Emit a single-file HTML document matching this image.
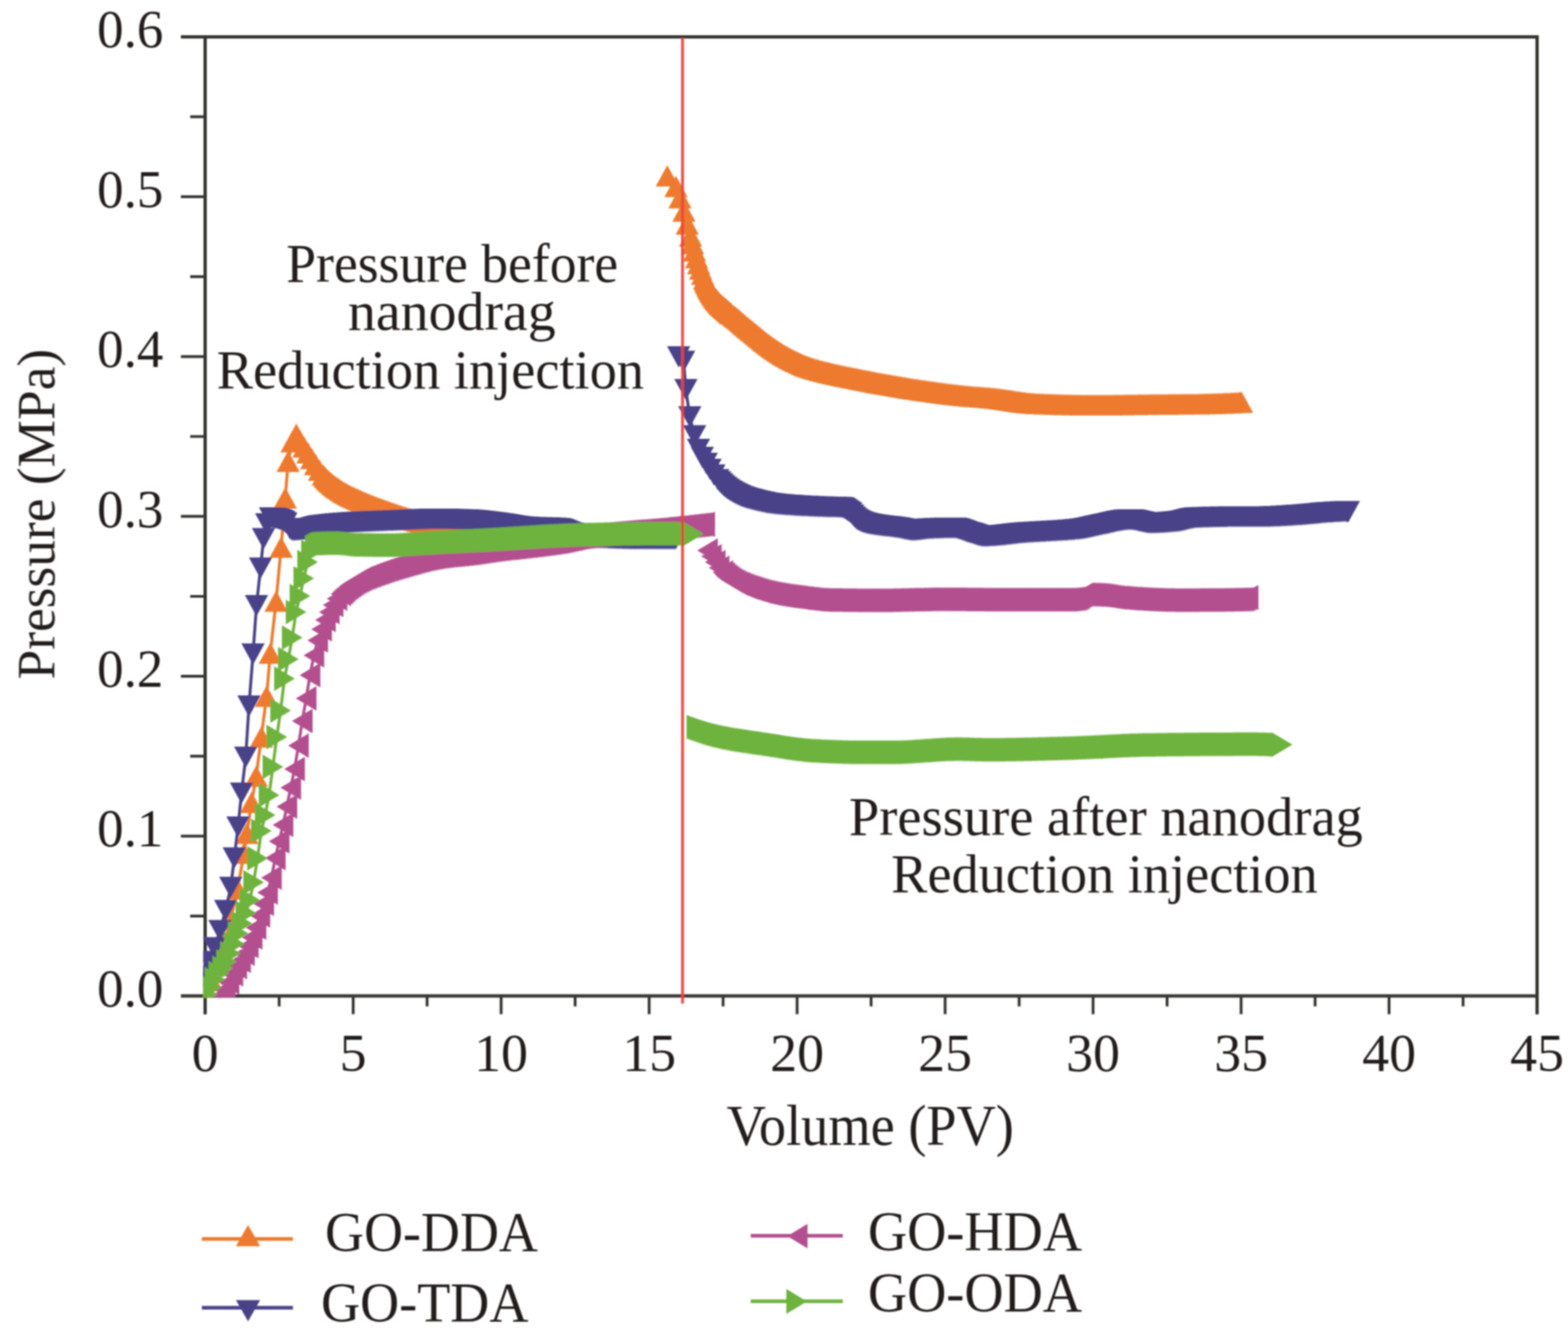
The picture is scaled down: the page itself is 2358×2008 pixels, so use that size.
<!DOCTYPE html>
<html><head><meta charset="utf-8"><title>Pressure vs Volume</title>
<style>html,body{margin:0;padding:0;background:#fff;}svg{display:block;}</style></head><body>
<svg width="2358" height="2008" viewBox="0 0 2358 2008">
<rect width="2358" height="2008" fill="#ffffff"/>
<filter id="soft" x="0" y="0" width="1" height="1"><feGaussianBlur stdDeviation="1.0"/></filter>
<g filter="url(#soft)">
<g stroke="#363632" fill="none" stroke-linecap="butt">
<path d="M272.0 55.5H2311.5V1525.5" stroke-width="5"/>
<path d="M308.5 53.0V1525.5" stroke-width="5"/>
<path d="M272.0 1498.0H2314.0" stroke-width="5"/>
<path d="M272 1498.0H308.5M272 1257.6H308.5M272 1017.2H308.5M272 776.7H308.5M272 536.3H308.5M272 295.9H308.5M272 55.5H308.5M286 1377.8H308.5M286 1137.4H308.5M286 897.0H308.5M286 656.5H308.5M286 416.1H308.5M286 175.7H308.5M308.5 1498.0V1525.5M531.1 1498.0V1525.5M753.6 1498.0V1525.5M976.2 1498.0V1525.5M1198.7 1498.0V1525.5M1421.3 1498.0V1525.5M1643.8 1498.0V1525.5M1866.4 1498.0V1525.5M2088.9 1498.0V1525.5M2311.5 1498.0V1525.5M419.8 1498.0V1513.8M642.3 1498.0V1513.8M864.9 1498.0V1513.8M1087.4 1498.0V1513.8M1310.0 1498.0V1513.8M1532.6 1498.0V1513.8M1755.1 1498.0V1513.8M1977.7 1498.0V1513.8M2200.2 1498.0V1513.8" stroke-width="4.2"/>
</g>
<defs><clipPath id="pc"><rect x="305.5" y="55.5" width="2003.0" height="1445.0"/></clipPath></defs>
<g clip-path="url(#pc)">
<path d="M308.5 1497.0L318.0 1475.0L328.0 1450.0L338.0 1418.0L347.0 1382.4L357.4 1337.0L366.7 1283.6L371.3 1253.4L378.3 1207.0L385.3 1167.4L393.0 1108.4L400.9 1047.2L406.5 982.5L415.2 904.3L422.7 823.0L429.0 749.0L433.3 694.0L439.2 664.5L445.6 653.0L451.4 662.9L457.2 672.3L463.0 681.1L468.8 689.7L474.6 698.7L480.4 707.2L486.2 714.6L489.1 718.0L492.0 721.0L494.9 723.7L497.8 726.3L500.7 728.7L503.6 731.0L506.5 733.1L509.4 735.1L512.3 737.1L515.2 738.9L518.1 740.7L521.0 742.3L523.9 743.9L526.8 745.4L529.7 746.8L532.6 748.2L535.5 749.5L538.4 750.8L541.3 752.1L544.2 753.4L547.1 754.7L550.0 755.9L552.9 757.2L555.8 758.4L558.7 759.5L561.6 760.7L564.5 761.8L567.4 762.9L570.3 764.0L573.2 765.1L576.1 766.1L579.0 767.2L581.9 768.2L584.8 769.2L587.7 770.2L590.6 771.2L593.5 772.2L596.4 773.2L599.3 774.2L602.2 775.2L605.1 776.2L608.0 777.1L610.9 778.1L613.8 778.9L616.7 779.8L619.6 780.7L622.5 781.6L625.4 782.5L628.3 783.4L631.2 784.1L634.1 784.9L637.0 785.5L639.9 786.0L642.8 786.4L645.7 786.8L648.6 787.1L651.5 787.4L654.4 787.7L657.3 788.0L660.2 788.3L663.1 788.5L666.0 788.8L668.9 789.0L671.8 789.2L674.7 789.5L677.6 789.8L680.5 790.1L683.4 790.3L686.3 790.6L689.2 790.9L692.1 791.2L695.0 791.5L697.9 791.8L700.8 792.1L703.7 792.4L706.6 792.7L709.5 793.0L712.4 793.3L715.3 793.6L718.2 793.8L721.1 794.1L724.0 794.3L726.9 794.6L729.8 794.8L732.7 795.1L735.6 795.3L738.5 795.6L741.4 795.8L744.3 796.0L747.2 796.3L750.1 796.5L753.0 796.7L755.9 797.0L758.8 797.2L761.7 797.4L764.6 797.6L767.5 797.8L770.4 798.0L773.3 798.3L776.2 798.5L779.1 798.7L782.0 798.9L784.9 799.1L787.8 799.2L790.7 799.4L793.6 799.6L796.5 799.8L799.4 800.0L802.3 800.1L805.2 800.3L808.1 800.5L811.0 800.7L813.9 800.9L816.8 801.1L819.7 801.3L822.6 801.5L825.5 801.7L828.4 801.8L831.3 802.0L834.2 802.2L837.1 802.3L840.0 802.5L842.9 802.6L845.8 802.7L848.7 802.8L851.6 802.9L854.5 803.0L857.4 803.0L860.3 803.0L863.2 803.0L866.1 803.0L869.0 803.0L871.9 803.0L874.8 803.0L877.7 803.0L880.6 803.0L883.5 803.0L886.4 803.0L889.3 803.0L892.2 803.0L895.1 803.0L898.0 803.0L900.9 803.0L903.8 803.0L906.7 803.0L909.6 803.0L912.5 803.0L915.4 803.0L918.3 803.0L921.2 803.0L924.1 803.0L927.0 803.0L929.9 803.0L932.8 803.0L935.7 803.0L938.6 803.0L941.5 803.0L944.4 803.0L947.3 803.0L950.2 803.0L953.1 803.0L956.0 803.0L958.9 803.0L961.8 803.0L964.7 803.0L967.6 803.0L970.5 803.0L973.4 803.0L976.3 803.0L979.2 803.0L982.1 803.0L985.0 803.0L987.9 803.0L990.8 803.0L993.7 803.0L996.6 803.0L998.3 803.0L1000.0 803.0" fill="none" stroke="#ED7A2F" stroke-width="4.5" stroke-linejoin="round"/>
<path d="M1003.5 264.5L1016.5 280.5L1022.5 297.5L1028.5 317.5L1033.5 337.0L1038.5 355.0L1041.5 366.5L1044.5 377.3L1047.5 387.4L1050.5 396.4L1053.5 404.7L1056.5 412.4L1059.5 419.5L1061.0 422.9L1062.5 426.1L1064.0 429.3L1065.5 432.2L1067.0 435.0L1068.5 437.6L1070.0 440.1L1071.5 442.4L1073.0 444.6L1074.5 446.7L1076.0 448.7L1077.5 450.6L1079.0 452.5L1080.5 454.3L1082.0 455.9L1083.5 457.5L1085.0 459.0L1086.5 460.3L1088.0 461.6L1089.5 462.9L1091.0 464.1L1092.5 465.4L1094.0 466.8L1095.5 468.1L1097.0 469.4L1098.5 470.7L1099.2 471.4L1100.0 472.0L1103.0 474.4L1105.9 476.6L1108.8 478.8L1111.7 481.3L1114.6 483.9L1117.5 486.4L1120.4 488.9L1123.3 491.4L1126.2 493.8L1129.1 496.2L1132.0 498.6L1134.9 501.0L1137.8 503.3L1140.7 505.7L1143.6 508.1L1146.5 510.5L1149.4 512.9L1152.3 515.2L1155.2 517.5L1158.1 519.6L1161.0 521.7L1163.9 523.8L1166.8 525.8L1169.7 527.8L1172.6 529.6L1175.5 531.5L1178.4 533.2L1181.3 534.9L1184.2 536.6L1187.1 538.2L1190.0 539.7L1192.9 541.2L1195.8 542.7L1198.7 544.1L1201.6 545.5L1204.5 546.8L1207.4 548.2L1210.3 549.4L1213.2 550.6L1216.1 551.6L1219.0 552.6L1221.9 553.5L1224.8 554.4L1227.7 555.2L1230.6 556.1L1233.5 556.9L1236.4 557.6L1239.3 558.4L1242.2 559.1L1245.1 559.8L1248.0 560.5L1250.9 561.2L1253.8 561.9L1256.7 562.5L1259.6 563.2L1262.5 563.8L1265.4 564.5L1268.3 565.1L1271.2 565.7L1274.1 566.2L1277.0 566.8L1279.9 567.4L1282.8 568.0L1285.7 568.6L1288.6 569.1L1291.5 569.7L1294.4 570.3L1297.3 570.9L1300.2 571.4L1303.1 572.0L1306.0 572.6L1308.9 573.2L1311.8 573.7L1314.7 574.3L1317.6 574.9L1320.5 575.4L1323.4 576.0L1326.3 576.5L1329.2 577.0L1332.1 577.6L1335.0 578.1L1337.9 578.6L1340.8 579.1L1343.7 579.6L1346.6 580.1L1349.5 580.6L1352.4 581.1L1355.3 581.6L1358.2 582.1L1361.1 582.6L1364.0 583.0L1366.9 583.5L1369.8 584.0L1372.7 584.4L1375.6 584.9L1378.5 585.3L1381.4 585.8L1384.3 586.2L1387.2 586.7L1390.1 587.1L1393.0 587.5L1395.9 587.9L1398.8 588.3L1401.7 588.7L1404.6 589.1L1407.5 589.5L1410.4 589.9L1413.3 590.3L1416.2 590.7L1419.1 591.1L1422.0 591.5L1424.9 591.9L1427.8 592.2L1430.7 592.6L1433.6 592.9L1436.5 593.3L1439.4 593.6L1442.3 593.9L1445.2 594.3L1448.1 594.6L1451.0 594.9L1453.9 595.1L1456.8 595.4L1459.7 595.7L1462.6 595.9L1465.5 596.2L1468.4 596.4L1471.3 596.6L1474.2 596.9L1477.1 597.1L1480.0 597.4L1482.9 597.6L1485.8 597.8L1488.7 598.1L1491.6 598.4L1494.5 598.6L1497.4 598.9L1500.3 599.2L1503.2 599.6L1506.1 600.0L1509.0 600.3L1511.9 600.8L1514.8 601.2L1517.7 601.6L1520.6 602.1L1523.5 602.5L1526.4 603.0L1529.3 603.4L1532.2 603.8L1535.1 604.3L1538.0 604.7L1540.9 605.0L1543.8 605.4L1546.7 605.7L1549.6 606.0L1552.5 606.3L1555.4 606.5L1558.3 606.7L1561.2 606.9L1564.1 607.0L1567.0 607.1L1569.9 607.2L1572.8 607.4L1575.7 607.5L1578.6 607.6L1581.5 607.7L1584.4 607.8L1587.3 607.9L1590.2 608.0L1593.1 608.1L1596.0 608.2L1598.9 608.3L1601.8 608.4L1604.7 608.5L1607.6 608.5L1610.5 608.6L1613.4 608.7L1616.3 608.7L1619.2 608.8L1622.1 608.8L1625.0 608.9L1627.9 608.9L1630.8 608.9L1633.7 609.0L1636.6 609.0L1639.5 609.0L1642.4 609.0L1645.3 609.0L1648.2 609.0L1651.1 609.0L1654.0 609.0L1656.9 609.0L1659.8 608.9L1662.7 608.9L1665.6 608.9L1668.5 608.9L1671.4 608.9L1674.3 608.8L1677.2 608.8L1680.1 608.8L1683.0 608.7L1685.9 608.7L1688.8 608.7L1691.7 608.6L1694.6 608.6L1697.5 608.5L1700.4 608.5L1703.3 608.5L1706.2 608.4L1709.1 608.4L1712.0 608.3L1714.9 608.3L1717.8 608.3L1720.7 608.2L1723.6 608.2L1726.5 608.2L1729.4 608.1L1732.3 608.1L1735.2 608.1L1738.1 608.0L1741.0 608.0L1743.9 608.0L1746.8 607.9L1749.7 607.9L1752.6 607.9L1755.5 607.9L1758.4 607.8L1761.3 607.8L1764.2 607.8L1767.1 607.8L1770.0 607.7L1772.9 607.7L1775.8 607.7L1778.7 607.7L1781.6 607.6L1784.5 607.6L1787.4 607.6L1790.3 607.5L1793.2 607.5L1796.1 607.5L1799.0 607.4L1801.9 607.4L1804.8 607.3L1807.7 607.3L1810.6 607.2L1813.5 607.1L1816.4 607.0L1819.3 607.0L1822.2 606.9L1825.1 606.8L1828.0 606.7L1830.9 606.6L1833.8 606.5L1836.7 606.4L1839.6 606.2L1842.5 606.1L1845.4 606.0L1848.3 605.9L1851.2 605.7L1854.1 605.6L1857.0 605.5L1859.9 605.3L1862.8 605.2L1864.9 605.1L1867.0 605.0" fill="none" stroke="#ED7A2F" stroke-width="4.5" stroke-linejoin="round"/>
<path d="M308.5 1481.0L326.0 1513.0L291.0 1513.0ZM318.0 1459.0L335.5 1491.0L300.5 1491.0ZM328.0 1434.0L345.5 1466.0L310.5 1466.0ZM338.0 1402.0L355.5 1434.0L320.5 1434.0ZM347.0 1366.4L364.5 1398.4L329.5 1398.4ZM357.4 1321.0L374.9 1353.0L339.9 1353.0ZM366.7 1267.6L384.2 1299.6L349.2 1299.6ZM371.3 1237.4L388.8 1269.4L353.8 1269.4ZM378.3 1191.0L395.8 1223.0L360.8 1223.0ZM385.3 1151.4L402.8 1183.4L367.8 1183.4ZM393.0 1092.4L410.5 1124.4L375.5 1124.4ZM400.9 1031.2L418.4 1063.2L383.4 1063.2ZM406.5 966.5L424.0 998.5L389.0 998.5ZM415.2 888.3L432.7 920.3L397.7 920.3ZM422.7 807.0L440.2 839.0L405.2 839.0ZM429.0 733.0L446.5 765.0L411.5 765.0ZM433.3 678.0L450.8 710.0L415.8 710.0ZM439.2 648.5L456.7 680.5L421.7 680.5ZM445.6 637.0L463.1 669.0L428.1 669.0ZM451.4 646.9L468.9 678.9L433.9 678.9ZM457.2 656.3L474.7 688.3L439.7 688.3ZM463.0 665.1L480.5 697.1L445.5 697.1ZM468.8 673.7L486.3 705.7L451.3 705.7ZM474.6 682.7L492.1 714.7L457.1 714.7ZM480.4 691.2L497.9 723.2L462.9 723.2ZM486.2 698.6L503.7 730.6L468.7 730.6ZM489.1 702.0L506.6 734.0L471.6 734.0ZM492.0 705.0L509.5 737.0L474.5 737.0ZM494.9 707.7L512.4 739.7L477.4 739.7ZM497.8 710.3L515.3 742.3L480.3 742.3ZM500.7 712.7L518.2 744.7L483.2 744.7ZM503.6 715.0L521.1 747.0L486.1 747.0ZM506.5 717.1L524.0 749.1L489.0 749.1ZM509.4 719.1L526.9 751.1L491.9 751.1ZM512.3 721.1L529.8 753.1L494.8 753.1ZM515.2 722.9L532.7 754.9L497.7 754.9ZM518.1 724.7L535.6 756.7L500.6 756.7ZM521.0 726.3L538.5 758.3L503.5 758.3ZM523.9 727.9L541.4 759.9L506.4 759.9ZM526.8 729.4L544.3 761.4L509.3 761.4ZM529.7 730.8L547.2 762.8L512.2 762.8ZM532.6 732.2L550.1 764.2L515.1 764.2ZM535.5 733.5L553.0 765.5L518.0 765.5ZM538.4 734.8L555.9 766.8L520.9 766.8ZM541.3 736.1L558.8 768.1L523.8 768.1ZM544.2 737.4L561.7 769.4L526.7 769.4ZM547.1 738.7L564.6 770.7L529.6 770.7ZM550.0 739.9L567.5 771.9L532.5 771.9ZM552.9 741.2L570.4 773.2L535.4 773.2ZM555.8 742.4L573.3 774.4L538.3 774.4ZM558.7 743.5L576.2 775.5L541.2 775.5ZM561.6 744.7L579.1 776.7L544.1 776.7ZM564.5 745.8L582.0 777.8L547.0 777.8ZM567.4 746.9L584.9 778.9L549.9 778.9ZM570.3 748.0L587.8 780.0L552.8 780.0ZM573.2 749.1L590.7 781.1L555.7 781.1ZM576.1 750.1L593.6 782.1L558.6 782.1ZM579.0 751.2L596.5 783.2L561.5 783.2ZM581.9 752.2L599.4 784.2L564.4 784.2ZM584.8 753.2L602.3 785.2L567.3 785.2ZM587.7 754.2L605.2 786.2L570.2 786.2ZM590.6 755.2L608.1 787.2L573.1 787.2ZM593.5 756.2L611.0 788.2L576.0 788.2ZM596.4 757.2L613.9 789.2L578.9 789.2ZM599.3 758.2L616.8 790.2L581.8 790.2ZM602.2 759.2L619.7 791.2L584.7 791.2ZM605.1 760.2L622.6 792.2L587.6 792.2ZM608.0 761.1L625.5 793.1L590.5 793.1ZM610.9 762.1L628.4 794.1L593.4 794.1ZM613.8 762.9L631.3 794.9L596.3 794.9ZM616.7 763.8L634.2 795.8L599.2 795.8ZM619.6 764.7L637.1 796.7L602.1 796.7ZM622.5 765.6L640.0 797.6L605.0 797.6ZM625.4 766.5L642.9 798.5L607.9 798.5ZM628.3 767.4L645.8 799.4L610.8 799.4ZM631.2 768.1L648.7 800.1L613.7 800.1ZM634.1 768.9L651.6 800.9L616.6 800.9ZM637.0 769.5L654.5 801.5L619.5 801.5ZM639.9 770.0L657.4 802.0L622.4 802.0ZM642.8 770.4L660.3 802.4L625.3 802.4ZM645.7 770.8L663.2 802.8L628.2 802.8ZM648.6 771.1L666.1 803.1L631.1 803.1ZM651.5 771.4L669.0 803.4L634.0 803.4ZM654.4 771.7L671.9 803.7L636.9 803.7ZM657.3 772.0L674.8 804.0L639.8 804.0ZM660.2 772.3L677.7 804.3L642.7 804.3ZM663.1 772.5L680.6 804.5L645.6 804.5ZM666.0 772.8L683.5 804.8L648.5 804.8ZM668.9 773.0L686.4 805.0L651.4 805.0ZM671.8 773.2L689.3 805.2L654.3 805.2ZM674.7 773.5L692.2 805.5L657.2 805.5ZM677.6 773.8L695.1 805.8L660.1 805.8ZM680.5 774.1L698.0 806.1L663.0 806.1ZM683.4 774.3L700.9 806.3L665.9 806.3ZM686.3 774.6L703.8 806.6L668.8 806.6ZM689.2 774.9L706.7 806.9L671.7 806.9ZM692.1 775.2L709.6 807.2L674.6 807.2ZM695.0 775.5L712.5 807.5L677.5 807.5ZM697.9 775.8L715.4 807.8L680.4 807.8ZM700.8 776.1L718.3 808.1L683.3 808.1ZM703.7 776.4L721.2 808.4L686.2 808.4ZM706.6 776.7L724.1 808.7L689.1 808.7ZM709.5 777.0L727.0 809.0L692.0 809.0ZM712.4 777.3L729.9 809.3L694.9 809.3ZM715.3 777.6L732.8 809.6L697.8 809.6ZM718.2 777.8L735.7 809.8L700.7 809.8ZM721.1 778.1L738.6 810.1L703.6 810.1ZM724.0 778.3L741.5 810.3L706.5 810.3ZM726.9 778.6L744.4 810.6L709.4 810.6ZM729.8 778.8L747.3 810.8L712.3 810.8ZM732.7 779.1L750.2 811.1L715.2 811.1ZM735.6 779.3L753.1 811.3L718.1 811.3ZM738.5 779.6L756.0 811.6L721.0 811.6ZM741.4 779.8L758.9 811.8L723.9 811.8ZM744.3 780.0L761.8 812.0L726.8 812.0ZM747.2 780.3L764.7 812.3L729.7 812.3ZM750.1 780.5L767.6 812.5L732.6 812.5ZM753.0 780.7L770.5 812.7L735.5 812.7ZM755.9 781.0L773.4 813.0L738.4 813.0ZM758.8 781.2L776.3 813.2L741.3 813.2ZM761.7 781.4L779.2 813.4L744.2 813.4ZM764.6 781.6L782.1 813.6L747.1 813.6ZM767.5 781.8L785.0 813.8L750.0 813.8ZM770.4 782.0L787.9 814.0L752.9 814.0ZM773.3 782.3L790.8 814.3L755.8 814.3ZM776.2 782.5L793.7 814.5L758.7 814.5ZM779.1 782.7L796.6 814.7L761.6 814.7ZM782.0 782.9L799.5 814.9L764.5 814.9ZM784.9 783.1L802.4 815.1L767.4 815.1ZM787.8 783.2L805.3 815.2L770.3 815.2ZM790.7 783.4L808.2 815.4L773.2 815.4ZM793.6 783.6L811.1 815.6L776.1 815.6ZM796.5 783.8L814.0 815.8L779.0 815.8ZM799.4 784.0L816.9 816.0L781.9 816.0ZM802.3 784.1L819.8 816.1L784.8 816.1ZM805.2 784.3L822.7 816.3L787.7 816.3ZM808.1 784.5L825.6 816.5L790.6 816.5ZM811.0 784.7L828.5 816.7L793.5 816.7ZM813.9 784.9L831.4 816.9L796.4 816.9ZM816.8 785.1L834.3 817.1L799.3 817.1ZM819.7 785.3L837.2 817.3L802.2 817.3ZM822.6 785.5L840.1 817.5L805.1 817.5ZM825.5 785.7L843.0 817.7L808.0 817.7ZM828.4 785.8L845.9 817.8L810.9 817.8ZM831.3 786.0L848.8 818.0L813.8 818.0ZM834.2 786.2L851.7 818.2L816.7 818.2ZM837.1 786.3L854.6 818.3L819.6 818.3ZM840.0 786.5L857.5 818.5L822.5 818.5ZM842.9 786.6L860.4 818.6L825.4 818.6ZM845.8 786.7L863.3 818.7L828.3 818.7ZM848.7 786.8L866.2 818.8L831.2 818.8ZM851.6 786.9L869.1 818.9L834.1 818.9ZM854.5 787.0L872.0 819.0L837.0 819.0ZM857.4 787.0L874.9 819.0L839.9 819.0ZM860.3 787.0L877.8 819.0L842.8 819.0ZM863.2 787.0L880.7 819.0L845.7 819.0ZM866.1 787.0L883.6 819.0L848.6 819.0ZM869.0 787.0L886.5 819.0L851.5 819.0ZM871.9 787.0L889.4 819.0L854.4 819.0ZM874.8 787.0L892.3 819.0L857.3 819.0ZM877.7 787.0L895.2 819.0L860.2 819.0ZM880.6 787.0L898.1 819.0L863.1 819.0ZM883.5 787.0L901.0 819.0L866.0 819.0ZM886.4 787.0L903.9 819.0L868.9 819.0ZM889.3 787.0L906.8 819.0L871.8 819.0ZM892.2 787.0L909.7 819.0L874.7 819.0ZM895.1 787.0L912.6 819.0L877.6 819.0ZM898.0 787.0L915.5 819.0L880.5 819.0ZM900.9 787.0L918.4 819.0L883.4 819.0ZM903.8 787.0L921.3 819.0L886.3 819.0ZM906.7 787.0L924.2 819.0L889.2 819.0ZM909.6 787.0L927.1 819.0L892.1 819.0ZM912.5 787.0L930.0 819.0L895.0 819.0ZM915.4 787.0L932.9 819.0L897.9 819.0ZM918.3 787.0L935.8 819.0L900.8 819.0ZM921.2 787.0L938.7 819.0L903.7 819.0ZM924.1 787.0L941.6 819.0L906.6 819.0ZM927.0 787.0L944.5 819.0L909.5 819.0ZM929.9 787.0L947.4 819.0L912.4 819.0ZM932.8 787.0L950.3 819.0L915.3 819.0ZM935.7 787.0L953.2 819.0L918.2 819.0ZM938.6 787.0L956.1 819.0L921.1 819.0ZM941.5 787.0L959.0 819.0L924.0 819.0ZM944.4 787.0L961.9 819.0L926.9 819.0ZM947.3 787.0L964.8 819.0L929.8 819.0ZM950.2 787.0L967.7 819.0L932.7 819.0ZM953.1 787.0L970.6 819.0L935.6 819.0ZM956.0 787.0L973.5 819.0L938.5 819.0ZM958.9 787.0L976.4 819.0L941.4 819.0ZM961.8 787.0L979.3 819.0L944.3 819.0ZM964.7 787.0L982.2 819.0L947.2 819.0ZM967.6 787.0L985.1 819.0L950.1 819.0ZM970.5 787.0L988.0 819.0L953.0 819.0ZM973.4 787.0L990.9 819.0L955.9 819.0ZM976.3 787.0L993.8 819.0L958.8 819.0ZM979.2 787.0L996.7 819.0L961.7 819.0ZM982.1 787.0L999.6 819.0L964.6 819.0ZM985.0 787.0L1002.5 819.0L967.5 819.0ZM987.9 787.0L1005.4 819.0L970.4 819.0ZM990.8 787.0L1008.3 819.0L973.3 819.0ZM993.7 787.0L1011.2 819.0L976.2 819.0ZM996.6 787.0L1014.1 819.0L979.1 819.0ZM998.3 787.0L1015.8 819.0L980.8 819.0ZM1000.0 787.0L1017.5 819.0L982.5 819.0ZM1003.5 248.5L1021.0 280.5L986.0 280.5ZM1016.5 264.5L1034.0 296.5L999.0 296.5ZM1022.5 281.5L1040.0 313.5L1005.0 313.5ZM1028.5 301.5L1046.0 333.5L1011.0 333.5ZM1033.5 321.0L1051.0 353.0L1016.0 353.0ZM1038.5 339.0L1056.0 371.0L1021.0 371.0ZM1041.5 350.5L1059.0 382.5L1024.0 382.5ZM1044.5 361.3L1062.0 393.3L1027.0 393.3ZM1047.5 371.4L1065.0 403.4L1030.0 403.4ZM1050.5 380.4L1068.0 412.4L1033.0 412.4ZM1053.5 388.7L1071.0 420.7L1036.0 420.7ZM1056.5 396.4L1074.0 428.4L1039.0 428.4ZM1059.5 403.5L1077.0 435.5L1042.0 435.5ZM1061.0 406.9L1078.5 438.9L1043.5 438.9ZM1062.5 410.1L1080.0 442.1L1045.0 442.1ZM1064.0 413.3L1081.5 445.3L1046.5 445.3ZM1065.5 416.2L1083.0 448.2L1048.0 448.2ZM1067.0 419.0L1084.5 451.0L1049.5 451.0ZM1068.5 421.6L1086.0 453.6L1051.0 453.6ZM1070.0 424.1L1087.5 456.1L1052.5 456.1ZM1071.5 426.4L1089.0 458.4L1054.0 458.4ZM1073.0 428.6L1090.5 460.6L1055.5 460.6ZM1074.5 430.7L1092.0 462.7L1057.0 462.7ZM1076.0 432.7L1093.5 464.7L1058.5 464.7ZM1077.5 434.6L1095.0 466.6L1060.0 466.6ZM1079.0 436.5L1096.5 468.5L1061.5 468.5ZM1080.5 438.3L1098.0 470.3L1063.0 470.3ZM1082.0 439.9L1099.5 471.9L1064.5 471.9ZM1083.5 441.5L1101.0 473.5L1066.0 473.5ZM1085.0 443.0L1102.5 475.0L1067.5 475.0ZM1086.5 444.3L1104.0 476.3L1069.0 476.3ZM1088.0 445.6L1105.5 477.6L1070.5 477.6ZM1089.5 446.9L1107.0 478.9L1072.0 478.9ZM1091.0 448.1L1108.5 480.1L1073.5 480.1ZM1092.5 449.4L1110.0 481.4L1075.0 481.4ZM1094.0 450.8L1111.5 482.8L1076.5 482.8ZM1095.5 452.1L1113.0 484.1L1078.0 484.1ZM1097.0 453.4L1114.5 485.4L1079.5 485.4ZM1098.5 454.7L1116.0 486.7L1081.0 486.7ZM1099.2 455.4L1116.8 487.4L1081.8 487.4ZM1100.0 456.0L1117.5 488.0L1082.5 488.0ZM1103.0 458.4L1120.5 490.4L1085.5 490.4ZM1105.9 460.6L1123.4 492.6L1088.4 492.6ZM1108.8 462.8L1126.3 494.8L1091.3 494.8ZM1111.7 465.3L1129.2 497.3L1094.2 497.3ZM1114.6 467.9L1132.1 499.9L1097.1 499.9ZM1117.5 470.4L1135.0 502.4L1100.0 502.4ZM1120.4 472.9L1137.9 504.9L1102.9 504.9ZM1123.3 475.4L1140.8 507.4L1105.8 507.4ZM1126.2 477.8L1143.7 509.8L1108.7 509.8ZM1129.1 480.2L1146.6 512.2L1111.6 512.2ZM1132.0 482.6L1149.5 514.6L1114.5 514.6ZM1134.9 485.0L1152.4 517.0L1117.4 517.0ZM1137.8 487.3L1155.3 519.3L1120.3 519.3ZM1140.7 489.7L1158.2 521.7L1123.2 521.7ZM1143.6 492.1L1161.1 524.1L1126.1 524.1ZM1146.5 494.5L1164.0 526.5L1129.0 526.5ZM1149.4 496.9L1166.9 528.9L1131.9 528.9ZM1152.3 499.2L1169.8 531.2L1134.8 531.2ZM1155.2 501.5L1172.7 533.5L1137.7 533.5ZM1158.1 503.6L1175.6 535.6L1140.6 535.6ZM1161.0 505.7L1178.5 537.7L1143.5 537.7ZM1163.9 507.8L1181.4 539.8L1146.4 539.8ZM1166.8 509.8L1184.3 541.8L1149.3 541.8ZM1169.7 511.8L1187.2 543.8L1152.2 543.8ZM1172.6 513.6L1190.1 545.6L1155.1 545.6ZM1175.5 515.5L1193.0 547.5L1158.0 547.5ZM1178.4 517.2L1195.9 549.2L1160.9 549.2ZM1181.3 518.9L1198.8 550.9L1163.8 550.9ZM1184.2 520.6L1201.7 552.6L1166.7 552.6ZM1187.1 522.2L1204.6 554.2L1169.6 554.2ZM1190.0 523.7L1207.5 555.7L1172.5 555.7ZM1192.9 525.2L1210.4 557.2L1175.4 557.2ZM1195.8 526.7L1213.3 558.7L1178.3 558.7ZM1198.7 528.1L1216.2 560.1L1181.2 560.1ZM1201.6 529.5L1219.1 561.5L1184.1 561.5ZM1204.5 530.8L1222.0 562.8L1187.0 562.8ZM1207.4 532.2L1224.9 564.2L1189.9 564.2ZM1210.3 533.4L1227.8 565.4L1192.8 565.4ZM1213.2 534.6L1230.7 566.6L1195.7 566.6ZM1216.1 535.6L1233.6 567.6L1198.6 567.6ZM1219.0 536.6L1236.5 568.6L1201.5 568.6ZM1221.9 537.5L1239.4 569.5L1204.4 569.5ZM1224.8 538.4L1242.3 570.4L1207.3 570.4ZM1227.7 539.2L1245.2 571.2L1210.2 571.2ZM1230.6 540.1L1248.1 572.1L1213.1 572.1ZM1233.5 540.9L1251.0 572.9L1216.0 572.9ZM1236.4 541.6L1253.9 573.6L1218.9 573.6ZM1239.3 542.4L1256.8 574.4L1221.8 574.4ZM1242.2 543.1L1259.7 575.1L1224.7 575.1ZM1245.1 543.8L1262.6 575.8L1227.6 575.8ZM1248.0 544.5L1265.5 576.5L1230.5 576.5ZM1250.9 545.2L1268.4 577.2L1233.4 577.2ZM1253.8 545.9L1271.3 577.9L1236.3 577.9ZM1256.7 546.5L1274.2 578.5L1239.2 578.5ZM1259.6 547.2L1277.1 579.2L1242.1 579.2ZM1262.5 547.8L1280.0 579.8L1245.0 579.8ZM1265.4 548.5L1282.9 580.5L1247.9 580.5ZM1268.3 549.1L1285.8 581.1L1250.8 581.1ZM1271.2 549.7L1288.7 581.7L1253.7 581.7ZM1274.1 550.2L1291.6 582.2L1256.6 582.2ZM1277.0 550.8L1294.5 582.8L1259.5 582.8ZM1279.9 551.4L1297.4 583.4L1262.4 583.4ZM1282.8 552.0L1300.3 584.0L1265.3 584.0ZM1285.7 552.6L1303.2 584.6L1268.2 584.6ZM1288.6 553.1L1306.1 585.1L1271.1 585.1ZM1291.5 553.7L1309.0 585.7L1274.0 585.7ZM1294.4 554.3L1311.9 586.3L1276.9 586.3ZM1297.3 554.9L1314.8 586.9L1279.8 586.9ZM1300.2 555.4L1317.7 587.4L1282.7 587.4ZM1303.1 556.0L1320.6 588.0L1285.6 588.0ZM1306.0 556.6L1323.5 588.6L1288.5 588.6ZM1308.9 557.2L1326.4 589.2L1291.4 589.2ZM1311.8 557.7L1329.3 589.7L1294.3 589.7ZM1314.7 558.3L1332.2 590.3L1297.2 590.3ZM1317.6 558.9L1335.1 590.9L1300.1 590.9ZM1320.5 559.4L1338.0 591.4L1303.0 591.4ZM1323.4 560.0L1340.9 592.0L1305.9 592.0ZM1326.3 560.5L1343.8 592.5L1308.8 592.5ZM1329.2 561.0L1346.7 593.0L1311.7 593.0ZM1332.1 561.6L1349.6 593.6L1314.6 593.6ZM1335.0 562.1L1352.5 594.1L1317.5 594.1ZM1337.9 562.6L1355.4 594.6L1320.4 594.6ZM1340.8 563.1L1358.3 595.1L1323.3 595.1ZM1343.7 563.6L1361.2 595.6L1326.2 595.6ZM1346.6 564.1L1364.1 596.1L1329.1 596.1ZM1349.5 564.6L1367.0 596.6L1332.0 596.6ZM1352.4 565.1L1369.9 597.1L1334.9 597.1ZM1355.3 565.6L1372.8 597.6L1337.8 597.6ZM1358.2 566.1L1375.7 598.1L1340.7 598.1ZM1361.1 566.6L1378.6 598.6L1343.6 598.6ZM1364.0 567.0L1381.5 599.0L1346.5 599.0ZM1366.9 567.5L1384.4 599.5L1349.4 599.5ZM1369.8 568.0L1387.3 600.0L1352.3 600.0ZM1372.7 568.4L1390.2 600.4L1355.2 600.4ZM1375.6 568.9L1393.1 600.9L1358.1 600.9ZM1378.5 569.3L1396.0 601.3L1361.0 601.3ZM1381.4 569.8L1398.9 601.8L1363.9 601.8ZM1384.3 570.2L1401.8 602.2L1366.8 602.2ZM1387.2 570.7L1404.7 602.7L1369.7 602.7ZM1390.1 571.1L1407.6 603.1L1372.6 603.1ZM1393.0 571.5L1410.5 603.5L1375.5 603.5ZM1395.9 571.9L1413.4 603.9L1378.4 603.9ZM1398.8 572.3L1416.3 604.3L1381.3 604.3ZM1401.7 572.7L1419.2 604.7L1384.2 604.7ZM1404.6 573.1L1422.1 605.1L1387.1 605.1ZM1407.5 573.5L1425.0 605.5L1390.0 605.5ZM1410.4 573.9L1427.9 605.9L1392.9 605.9ZM1413.3 574.3L1430.8 606.3L1395.8 606.3ZM1416.2 574.7L1433.7 606.7L1398.7 606.7ZM1419.1 575.1L1436.6 607.1L1401.6 607.1ZM1422.0 575.5L1439.5 607.5L1404.5 607.5ZM1424.9 575.9L1442.4 607.9L1407.4 607.9ZM1427.8 576.2L1445.3 608.2L1410.3 608.2ZM1430.7 576.6L1448.2 608.6L1413.2 608.6ZM1433.6 576.9L1451.1 608.9L1416.1 608.9ZM1436.5 577.3L1454.0 609.3L1419.0 609.3ZM1439.4 577.6L1456.9 609.6L1421.9 609.6ZM1442.3 577.9L1459.8 609.9L1424.8 609.9ZM1445.2 578.3L1462.7 610.3L1427.7 610.3ZM1448.1 578.6L1465.6 610.6L1430.6 610.6ZM1451.0 578.9L1468.5 610.9L1433.5 610.9ZM1453.9 579.1L1471.4 611.1L1436.4 611.1ZM1456.8 579.4L1474.3 611.4L1439.3 611.4ZM1459.7 579.7L1477.2 611.7L1442.2 611.7ZM1462.6 579.9L1480.1 611.9L1445.1 611.9ZM1465.5 580.2L1483.0 612.2L1448.0 612.2ZM1468.4 580.4L1485.9 612.4L1450.9 612.4ZM1471.3 580.6L1488.8 612.6L1453.8 612.6ZM1474.2 580.9L1491.7 612.9L1456.7 612.9ZM1477.1 581.1L1494.6 613.1L1459.6 613.1ZM1480.0 581.4L1497.5 613.4L1462.5 613.4ZM1482.9 581.6L1500.4 613.6L1465.4 613.6ZM1485.8 581.8L1503.3 613.8L1468.3 613.8ZM1488.7 582.1L1506.2 614.1L1471.2 614.1ZM1491.6 582.4L1509.1 614.4L1474.1 614.4ZM1494.5 582.6L1512.0 614.6L1477.0 614.6ZM1497.4 582.9L1514.9 614.9L1479.9 614.9ZM1500.3 583.2L1517.8 615.2L1482.8 615.2ZM1503.2 583.6L1520.7 615.6L1485.7 615.6ZM1506.1 584.0L1523.6 616.0L1488.6 616.0ZM1509.0 584.3L1526.5 616.3L1491.5 616.3ZM1511.9 584.8L1529.4 616.8L1494.4 616.8ZM1514.8 585.2L1532.3 617.2L1497.3 617.2ZM1517.7 585.6L1535.2 617.6L1500.2 617.6ZM1520.6 586.1L1538.1 618.1L1503.1 618.1ZM1523.5 586.5L1541.0 618.5L1506.0 618.5ZM1526.4 587.0L1543.9 619.0L1508.9 619.0ZM1529.3 587.4L1546.8 619.4L1511.8 619.4ZM1532.2 587.8L1549.7 619.8L1514.7 619.8ZM1535.1 588.3L1552.6 620.3L1517.6 620.3ZM1538.0 588.7L1555.5 620.7L1520.5 620.7ZM1540.9 589.0L1558.4 621.0L1523.4 621.0ZM1543.8 589.4L1561.3 621.4L1526.3 621.4ZM1546.7 589.7L1564.2 621.7L1529.2 621.7ZM1549.6 590.0L1567.1 622.0L1532.1 622.0ZM1552.5 590.3L1570.0 622.3L1535.0 622.3ZM1555.4 590.5L1572.9 622.5L1537.9 622.5ZM1558.3 590.7L1575.8 622.7L1540.8 622.7ZM1561.2 590.9L1578.7 622.9L1543.7 622.9ZM1564.1 591.0L1581.6 623.0L1546.6 623.0ZM1567.0 591.1L1584.5 623.1L1549.5 623.1ZM1569.9 591.2L1587.4 623.2L1552.4 623.2ZM1572.8 591.4L1590.3 623.4L1555.3 623.4ZM1575.7 591.5L1593.2 623.5L1558.2 623.5ZM1578.6 591.6L1596.1 623.6L1561.1 623.6ZM1581.5 591.7L1599.0 623.7L1564.0 623.7ZM1584.4 591.8L1601.9 623.8L1566.9 623.8ZM1587.3 591.9L1604.8 623.9L1569.8 623.9ZM1590.2 592.0L1607.7 624.0L1572.7 624.0ZM1593.1 592.1L1610.6 624.1L1575.6 624.1ZM1596.0 592.2L1613.5 624.2L1578.5 624.2ZM1598.9 592.3L1616.4 624.3L1581.4 624.3ZM1601.8 592.4L1619.3 624.4L1584.3 624.4ZM1604.7 592.5L1622.2 624.5L1587.2 624.5ZM1607.6 592.5L1625.1 624.5L1590.1 624.5ZM1610.5 592.6L1628.0 624.6L1593.0 624.6ZM1613.4 592.7L1630.9 624.7L1595.9 624.7ZM1616.3 592.7L1633.8 624.7L1598.8 624.7ZM1619.2 592.8L1636.7 624.8L1601.7 624.8ZM1622.1 592.8L1639.6 624.8L1604.6 624.8ZM1625.0 592.9L1642.5 624.9L1607.5 624.9ZM1627.9 592.9L1645.4 624.9L1610.4 624.9ZM1630.8 592.9L1648.3 624.9L1613.3 624.9ZM1633.7 593.0L1651.2 625.0L1616.2 625.0ZM1636.6 593.0L1654.1 625.0L1619.1 625.0ZM1639.5 593.0L1657.0 625.0L1622.0 625.0ZM1642.4 593.0L1659.9 625.0L1624.9 625.0ZM1645.3 593.0L1662.8 625.0L1627.8 625.0ZM1648.2 593.0L1665.7 625.0L1630.7 625.0ZM1651.1 593.0L1668.6 625.0L1633.6 625.0ZM1654.0 593.0L1671.5 625.0L1636.5 625.0ZM1656.9 593.0L1674.4 625.0L1639.4 625.0ZM1659.8 592.9L1677.3 624.9L1642.3 624.9ZM1662.7 592.9L1680.2 624.9L1645.2 624.9ZM1665.6 592.9L1683.1 624.9L1648.1 624.9ZM1668.5 592.9L1686.0 624.9L1651.0 624.9ZM1671.4 592.9L1688.9 624.9L1653.9 624.9ZM1674.3 592.8L1691.8 624.8L1656.8 624.8ZM1677.2 592.8L1694.7 624.8L1659.7 624.8ZM1680.1 592.8L1697.6 624.8L1662.6 624.8ZM1683.0 592.7L1700.5 624.7L1665.5 624.7ZM1685.9 592.7L1703.4 624.7L1668.4 624.7ZM1688.8 592.7L1706.3 624.7L1671.3 624.7ZM1691.7 592.6L1709.2 624.6L1674.2 624.6ZM1694.6 592.6L1712.1 624.6L1677.1 624.6ZM1697.5 592.5L1715.0 624.5L1680.0 624.5ZM1700.4 592.5L1717.9 624.5L1682.9 624.5ZM1703.3 592.5L1720.8 624.5L1685.8 624.5ZM1706.2 592.4L1723.7 624.4L1688.7 624.4ZM1709.1 592.4L1726.6 624.4L1691.6 624.4ZM1712.0 592.3L1729.5 624.3L1694.5 624.3ZM1714.9 592.3L1732.4 624.3L1697.4 624.3ZM1717.8 592.3L1735.3 624.3L1700.3 624.3ZM1720.7 592.2L1738.2 624.2L1703.2 624.2ZM1723.6 592.2L1741.1 624.2L1706.1 624.2ZM1726.5 592.2L1744.0 624.2L1709.0 624.2ZM1729.4 592.1L1746.9 624.1L1711.9 624.1ZM1732.3 592.1L1749.8 624.1L1714.8 624.1ZM1735.2 592.1L1752.7 624.1L1717.7 624.1ZM1738.1 592.0L1755.6 624.0L1720.6 624.0ZM1741.0 592.0L1758.5 624.0L1723.5 624.0ZM1743.9 592.0L1761.4 624.0L1726.4 624.0ZM1746.8 591.9L1764.3 623.9L1729.3 623.9ZM1749.7 591.9L1767.2 623.9L1732.2 623.9ZM1752.6 591.9L1770.1 623.9L1735.1 623.9ZM1755.5 591.9L1773.0 623.9L1738.0 623.9ZM1758.4 591.8L1775.9 623.8L1740.9 623.8ZM1761.3 591.8L1778.8 623.8L1743.8 623.8ZM1764.2 591.8L1781.7 623.8L1746.7 623.8ZM1767.1 591.8L1784.6 623.8L1749.6 623.8ZM1770.0 591.7L1787.5 623.7L1752.5 623.7ZM1772.9 591.7L1790.4 623.7L1755.4 623.7ZM1775.8 591.7L1793.3 623.7L1758.3 623.7ZM1778.7 591.7L1796.2 623.7L1761.2 623.7ZM1781.6 591.6L1799.1 623.6L1764.1 623.6ZM1784.5 591.6L1802.0 623.6L1767.0 623.6ZM1787.4 591.6L1804.9 623.6L1769.9 623.6ZM1790.3 591.5L1807.8 623.5L1772.8 623.5ZM1793.2 591.5L1810.7 623.5L1775.7 623.5ZM1796.1 591.5L1813.6 623.5L1778.6 623.5ZM1799.0 591.4L1816.5 623.4L1781.5 623.4ZM1801.9 591.4L1819.4 623.4L1784.4 623.4ZM1804.8 591.3L1822.3 623.3L1787.3 623.3ZM1807.7 591.3L1825.2 623.3L1790.2 623.3ZM1810.6 591.2L1828.1 623.2L1793.1 623.2ZM1813.5 591.1L1831.0 623.1L1796.0 623.1ZM1816.4 591.0L1833.9 623.0L1798.9 623.0ZM1819.3 591.0L1836.8 623.0L1801.8 623.0ZM1822.2 590.9L1839.7 622.9L1804.7 622.9ZM1825.1 590.8L1842.6 622.8L1807.6 622.8ZM1828.0 590.7L1845.5 622.7L1810.5 622.7ZM1830.9 590.6L1848.4 622.6L1813.4 622.6ZM1833.8 590.5L1851.3 622.5L1816.3 622.5ZM1836.7 590.4L1854.2 622.4L1819.2 622.4ZM1839.6 590.2L1857.1 622.2L1822.1 622.2ZM1842.5 590.1L1860.0 622.1L1825.0 622.1ZM1845.4 590.0L1862.9 622.0L1827.9 622.0ZM1848.3 589.9L1865.8 621.9L1830.8 621.9ZM1851.2 589.7L1868.7 621.7L1833.7 621.7ZM1854.1 589.6L1871.6 621.6L1836.6 621.6ZM1857.0 589.5L1874.5 621.5L1839.5 621.5ZM1859.9 589.3L1877.4 621.3L1842.4 621.3ZM1862.8 589.2L1880.3 621.2L1845.3 621.2ZM1864.9 589.1L1882.4 621.1L1847.4 621.1ZM1867.0 589.0L1884.5 621.0L1849.5 621.0Z" fill="#ED7A2F"/>
<path d="M306.0 1468.0L313.2 1446.3L322.5 1425.4L330.7 1399.8L339.3 1369.6L347.0 1334.7L352.3 1290.6L357.9 1244.0L363.2 1193.0L369.5 1139.0L374.4 1061.9L380.5 983.7L385.7 911.1L391.8 854.5L396.3 810.3L401.0 788.0L406.8 779.0L409.7 779.2L412.6 779.6L415.5 780.1L418.4 780.8L421.3 781.8L424.2 783.0L427.1 784.5L430.0 786.8L435.8 794.9L438.7 797.6L441.6 798.0L444.5 797.9L447.4 797.8L450.3 797.6L453.2 797.3L456.1 797.1L459.0 796.7L461.9 796.2L464.8 795.4L467.7 794.6L470.6 793.6L473.5 792.8L476.4 791.9L479.3 791.3L482.2 790.8L485.1 790.4L488.0 790.1L490.9 789.7L493.8 789.4L496.7 789.0L499.6 788.7L502.5 788.4L505.4 788.1L508.3 787.9L511.2 787.6L514.1 787.4L517.0 787.1L519.9 786.9L522.8 786.7L525.7 786.5L528.6 786.3L531.5 786.1L534.4 785.9L537.3 785.8L540.2 785.6L543.1 785.4L546.0 785.3L548.9 785.1L551.8 785.0L554.7 784.8L557.6 784.7L560.5 784.5L563.4 784.4L566.3 784.3L569.2 784.2L572.1 784.1L575.0 783.9L577.9 783.8L580.8 783.7L583.7 783.6L586.6 783.5L589.5 783.4L592.4 783.3L595.3 783.2L598.2 783.1L601.1 783.0L604.0 782.8L606.9 782.7L609.8 782.6L612.7 782.5L615.6 782.3L618.5 782.2L621.4 782.1L624.3 782.0L627.2 781.8L630.1 781.7L633.0 781.6L635.9 781.5L638.8 781.4L641.7 781.3L644.6 781.2L647.5 781.1L650.4 781.1L653.3 781.0L656.2 781.0L659.1 781.0L662.0 781.0L664.9 781.0L667.8 781.1L670.7 781.1L673.6 781.1L676.5 781.2L679.4 781.3L682.3 781.4L685.2 781.5L688.1 781.6L691.0 781.7L693.9 781.8L696.8 781.9L699.7 782.0L702.6 782.1L705.5 782.3L708.4 782.5L711.3 782.7L714.2 783.0L717.1 783.3L720.0 783.6L722.9 783.9L725.8 784.3L728.7 784.6L731.6 785.0L734.5 785.3L737.4 785.7L740.3 786.0L743.2 786.4L746.1 786.8L749.0 787.2L751.9 787.7L754.8 788.1L757.7 788.6L760.6 789.1L763.5 789.6L766.4 790.1L769.3 790.5L772.2 791.0L775.1 791.4L778.0 791.8L780.9 792.2L783.8 792.5L786.7 792.8L789.6 793.0L792.5 793.1L795.4 793.3L798.3 793.4L801.2 793.5L804.1 793.6L807.0 793.7L809.9 793.8L812.8 793.8L815.7 793.9L818.6 794.0L821.5 794.1L824.4 794.1L827.3 794.3L830.2 794.4L833.1 794.5L836.0 794.7L838.9 794.9L841.8 795.2L844.7 796.0L847.6 797.1L850.5 798.3L853.4 799.6L856.3 800.8L859.2 801.8L862.1 802.5L865.0 803.2L867.9 803.9L870.8 804.5L873.7 805.2L876.6 805.8L879.5 806.3L882.4 806.9L885.3 807.3L888.2 807.8L891.1 808.2L894.0 808.5L896.9 808.8L899.8 809.0L902.7 809.2L905.6 809.3L908.5 809.5L911.4 809.6L914.3 809.8L917.2 809.9L920.1 810.0L923.0 810.2L925.9 810.3L928.8 810.4L931.7 810.5L934.6 810.6L937.5 810.7L940.4 810.8L943.3 810.8L946.2 810.9L949.1 810.9L952.0 811.0L954.9 811.0L957.8 811.0L960.7 811.0L963.6 811.0L966.5 811.0L969.4 811.0L972.3 811.0L975.2 811.0L978.1 811.0L981.0 811.0L983.9 811.0L986.8 811.0L989.7 811.0L992.6 811.0L995.5 811.0L998.4 811.0L1001.3 811.0L1004.2 811.0L1007.1 811.0L1010.0 811.0L1012.9 811.0L1015.8 811.0" fill="none" stroke="#4A4388" stroke-width="4.5" stroke-linejoin="round"/>
<path d="M1020.6 536.7L1028.0 543.6L1031.5 586.0L1037.3 627.0L1044.6 655.6L1050.4 676.1L1056.2 688.0L1062.0 697.0L1067.8 705.9L1073.6 714.4L1079.4 721.6L1082.3 724.7L1085.2 727.7L1088.1 730.4L1091.0 732.9L1093.9 735.2L1096.8 737.2L1099.7 739.0L1102.6 740.7L1105.5 742.3L1108.4 743.8L1111.3 745.1L1114.2 746.4L1117.1 747.5L1120.0 748.5L1122.9 749.4L1125.8 750.2L1128.7 751.0L1131.6 751.8L1134.5 752.6L1137.4 753.3L1140.3 754.0L1143.2 754.6L1146.1 755.2L1149.0 755.8L1151.9 756.4L1154.8 756.9L1157.7 757.3L1160.6 757.7L1163.5 758.1L1166.4 758.4L1169.3 758.7L1172.2 759.0L1175.1 759.2L1178.0 759.5L1180.9 759.7L1183.8 759.9L1186.7 760.1L1189.6 760.3L1192.5 760.5L1195.4 760.7L1198.3 760.9L1201.2 761.0L1204.1 761.2L1207.0 761.4L1209.9 761.5L1212.8 761.6L1215.7 761.8L1218.6 761.9L1221.5 762.0L1224.4 762.2L1227.3 762.3L1230.2 762.4L1233.1 762.5L1236.0 762.6L1238.9 762.7L1241.8 762.8L1244.7 762.9L1247.6 763.0L1250.5 763.0L1253.4 763.1L1256.3 763.1L1259.2 763.2L1262.1 763.3L1265.0 763.5L1267.9 764.1L1270.8 765.5L1273.7 767.4L1276.6 769.4L1279.5 771.6L1282.4 774.7L1285.3 778.0L1288.2 780.8L1291.1 782.7L1294.0 784.2L1296.9 785.5L1299.8 786.5L1302.7 787.3L1305.6 787.9L1308.5 788.5L1311.4 789.0L1314.3 789.5L1317.2 789.9L1320.1 790.3L1323.0 790.7L1325.9 791.0L1328.8 791.4L1331.7 791.7L1334.6 792.0L1337.5 792.3L1340.4 792.7L1343.3 793.1L1346.2 793.4L1349.1 793.9L1352.0 794.3L1354.9 794.9L1357.8 795.5L1360.7 796.2L1363.6 796.8L1366.5 797.3L1369.4 797.7L1372.3 798.0L1375.2 798.0L1378.1 797.8L1381.0 797.6L1383.9 797.2L1386.8 796.8L1389.7 796.4L1392.6 796.0L1395.5 795.7L1398.4 795.5L1401.3 795.4L1404.2 795.2L1407.1 795.1L1410.0 795.0L1412.9 794.9L1415.8 794.8L1418.7 794.7L1421.6 794.6L1424.5 794.6L1427.4 794.5L1430.3 794.5L1433.2 794.5L1436.1 794.6L1439.0 795.0L1441.9 795.7L1444.8 796.7L1447.7 797.7L1450.6 798.8L1453.5 799.9L1456.4 800.9L1459.3 801.7L1462.2 802.6L1465.1 803.6L1468.0 804.6L1470.9 805.5L1473.8 806.2L1476.7 806.8L1479.6 807.0L1482.5 807.0L1485.4 806.9L1488.3 806.8L1491.2 806.6L1494.1 806.4L1497.0 806.2L1499.9 806.0L1502.8 805.8L1505.7 805.5L1508.6 805.3L1511.5 805.0L1514.4 804.6L1517.3 804.3L1520.2 804.0L1523.1 803.6L1526.0 803.3L1528.9 802.9L1531.8 802.6L1534.7 802.3L1537.6 802.0L1540.5 801.8L1543.4 801.6L1546.3 801.3L1549.2 801.1L1552.1 800.9L1555.0 800.8L1557.9 800.6L1560.8 800.4L1563.7 800.2L1566.6 800.1L1569.5 799.9L1572.4 799.8L1575.3 799.6L1578.2 799.4L1581.1 799.3L1584.0 799.1L1586.9 799.0L1589.8 798.8L1592.7 798.6L1595.6 798.4L1598.5 798.3L1601.4 798.1L1604.3 797.9L1607.2 797.6L1610.1 797.4L1613.0 797.2L1615.9 796.9L1618.8 796.6L1621.7 796.4L1624.6 796.0L1627.5 795.7L1630.4 795.3L1633.3 794.8L1636.2 794.2L1639.1 793.6L1642.0 792.9L1644.9 792.3L1647.8 791.6L1650.7 791.0L1653.6 790.3L1656.5 789.7L1659.4 789.1L1662.3 788.6L1665.2 787.9L1668.1 787.3L1671.0 786.6L1673.9 785.9L1676.8 785.3L1679.7 784.6L1682.6 784.0L1685.5 783.5L1688.4 783.0L1691.3 782.6L1694.2 782.3L1697.1 782.1L1700.0 782.0L1702.9 782.1L1705.8 782.5L1708.7 783.0L1711.6 783.7L1714.5 784.4L1717.4 785.1L1720.3 785.8L1723.2 786.3L1726.1 786.8L1729.0 787.0L1731.9 787.0L1734.8 787.0L1737.7 786.9L1740.6 786.8L1743.5 786.7L1746.4 786.5L1749.3 786.4L1752.2 786.2L1755.1 786.0L1758.0 785.8L1760.9 785.6L1763.8 785.3L1766.7 785.1L1769.6 784.8L1772.5 784.5L1775.4 784.0L1778.3 783.4L1781.2 782.7L1784.1 782.0L1787.0 781.2L1789.9 780.5L1792.8 779.9L1795.7 779.4L1798.6 779.1L1801.5 778.9L1804.4 778.8L1807.3 778.7L1810.2 778.6L1813.1 778.5L1816.0 778.4L1818.9 778.3L1821.8 778.2L1824.7 778.1L1827.6 778.0L1830.5 778.0L1833.4 777.9L1836.3 777.8L1839.2 777.8L1842.1 777.7L1845.0 777.7L1847.9 777.6L1850.8 777.6L1853.7 777.6L1856.6 777.6L1859.5 777.5L1862.4 777.5L1865.3 777.5L1868.2 777.5L1871.1 777.5L1874.0 777.5L1876.9 777.5L1879.8 777.5L1882.7 777.5L1885.6 777.5L1888.5 777.5L1891.4 777.5L1894.3 777.5L1897.2 777.5L1900.1 777.5L1903.0 777.5L1905.9 777.5L1908.8 777.4L1911.7 777.3L1914.6 777.2L1917.5 777.1L1920.4 777.0L1923.3 776.9L1926.2 776.7L1929.1 776.6L1932.0 776.4L1934.9 776.2L1937.8 776.1L1940.7 775.9L1943.6 775.7L1946.5 775.5L1949.4 775.3L1952.3 775.1L1955.2 774.9L1958.1 774.7L1961.0 774.5L1963.9 774.3L1966.8 774.1L1969.7 773.8L1972.6 773.6L1975.5 773.3L1978.4 773.0L1981.3 772.7L1984.2 772.4L1987.1 772.1L1990.0 771.8L1992.9 771.6L1995.8 771.3L1998.7 771.1L2001.6 770.9L2004.5 770.7L2007.4 770.5L2010.3 770.3L2013.2 770.2L2016.1 770.0L2019.0 769.8L2021.9 769.7L2024.8 769.5L2026.2 769.5L2027.7 769.4" fill="none" stroke="#4A4388" stroke-width="4.5" stroke-linejoin="round"/>
<path d="M288.5 1452.0L323.5 1452.0L306.0 1484.0ZM295.7 1430.3L330.7 1430.3L313.2 1462.3ZM305.0 1409.4L340.0 1409.4L322.5 1441.4ZM313.2 1383.8L348.2 1383.8L330.7 1415.8ZM321.8 1353.6L356.8 1353.6L339.3 1385.6ZM329.5 1318.7L364.5 1318.7L347.0 1350.7ZM334.8 1274.6L369.8 1274.6L352.3 1306.6ZM340.4 1228.0L375.4 1228.0L357.9 1260.0ZM345.7 1177.0L380.7 1177.0L363.2 1209.0ZM352.0 1123.0L387.0 1123.0L369.5 1155.0ZM356.9 1045.9L391.9 1045.9L374.4 1077.9ZM363.0 967.7L398.0 967.7L380.5 999.7ZM368.2 895.1L403.2 895.1L385.7 927.1ZM374.3 838.5L409.3 838.5L391.8 870.5ZM378.8 794.3L413.8 794.3L396.3 826.3ZM383.5 772.0L418.5 772.0L401.0 804.0ZM389.3 763.0L424.3 763.0L406.8 795.0ZM392.2 763.2L427.2 763.2L409.7 795.2ZM395.1 763.6L430.1 763.6L412.6 795.6ZM398.0 764.1L433.0 764.1L415.5 796.1ZM400.9 764.8L435.9 764.8L418.4 796.8ZM403.8 765.8L438.8 765.8L421.3 797.8ZM406.7 767.0L441.7 767.0L424.2 799.0ZM409.6 768.5L444.6 768.5L427.1 800.5ZM412.5 770.8L447.5 770.8L430.0 802.8ZM418.3 778.9L453.3 778.9L435.8 810.9ZM421.2 781.6L456.2 781.6L438.7 813.6ZM424.1 782.0L459.1 782.0L441.6 814.0ZM427.0 781.9L462.0 781.9L444.5 813.9ZM429.9 781.8L464.9 781.8L447.4 813.8ZM432.8 781.6L467.8 781.6L450.3 813.6ZM435.7 781.3L470.7 781.3L453.2 813.3ZM438.6 781.1L473.6 781.1L456.1 813.1ZM441.5 780.7L476.5 780.7L459.0 812.7ZM444.4 780.2L479.4 780.2L461.9 812.2ZM447.3 779.4L482.3 779.4L464.8 811.4ZM450.2 778.6L485.2 778.6L467.7 810.6ZM453.1 777.6L488.1 777.6L470.6 809.6ZM456.0 776.8L491.0 776.8L473.5 808.8ZM458.9 775.9L493.9 775.9L476.4 807.9ZM461.8 775.3L496.8 775.3L479.3 807.3ZM464.7 774.8L499.7 774.8L482.2 806.8ZM467.6 774.4L502.6 774.4L485.1 806.4ZM470.5 774.1L505.5 774.1L488.0 806.1ZM473.4 773.7L508.4 773.7L490.9 805.7ZM476.3 773.4L511.3 773.4L493.8 805.4ZM479.2 773.0L514.2 773.0L496.7 805.0ZM482.1 772.7L517.1 772.7L499.6 804.7ZM485.0 772.4L520.0 772.4L502.5 804.4ZM487.9 772.1L522.9 772.1L505.4 804.1ZM490.8 771.9L525.8 771.9L508.3 803.9ZM493.7 771.6L528.7 771.6L511.2 803.6ZM496.6 771.4L531.6 771.4L514.1 803.4ZM499.5 771.1L534.5 771.1L517.0 803.1ZM502.4 770.9L537.4 770.9L519.9 802.9ZM505.3 770.7L540.3 770.7L522.8 802.7ZM508.2 770.5L543.2 770.5L525.7 802.5ZM511.1 770.3L546.1 770.3L528.6 802.3ZM514.0 770.1L549.0 770.1L531.5 802.1ZM516.9 769.9L551.9 769.9L534.4 801.9ZM519.8 769.8L554.8 769.8L537.3 801.8ZM522.7 769.6L557.7 769.6L540.2 801.6ZM525.6 769.4L560.6 769.4L543.1 801.4ZM528.5 769.3L563.5 769.3L546.0 801.3ZM531.4 769.1L566.4 769.1L548.9 801.1ZM534.3 769.0L569.3 769.0L551.8 801.0ZM537.2 768.8L572.2 768.8L554.7 800.8ZM540.1 768.7L575.1 768.7L557.6 800.7ZM543.0 768.5L578.0 768.5L560.5 800.5ZM545.9 768.4L580.9 768.4L563.4 800.4ZM548.8 768.3L583.8 768.3L566.3 800.3ZM551.7 768.2L586.7 768.2L569.2 800.2ZM554.6 768.1L589.6 768.1L572.1 800.1ZM557.5 767.9L592.5 767.9L575.0 799.9ZM560.4 767.8L595.4 767.8L577.9 799.8ZM563.3 767.7L598.3 767.7L580.8 799.7ZM566.2 767.6L601.2 767.6L583.7 799.6ZM569.1 767.5L604.1 767.5L586.6 799.5ZM572.0 767.4L607.0 767.4L589.5 799.4ZM574.9 767.3L609.9 767.3L592.4 799.3ZM577.8 767.2L612.8 767.2L595.3 799.2ZM580.7 767.1L615.7 767.1L598.2 799.1ZM583.6 767.0L618.6 767.0L601.1 799.0ZM586.5 766.8L621.5 766.8L604.0 798.8ZM589.4 766.7L624.4 766.7L606.9 798.7ZM592.3 766.6L627.3 766.6L609.8 798.6ZM595.2 766.5L630.2 766.5L612.7 798.5ZM598.1 766.3L633.1 766.3L615.6 798.3ZM601.0 766.2L636.0 766.2L618.5 798.2ZM603.9 766.1L638.9 766.1L621.4 798.1ZM606.8 766.0L641.8 766.0L624.3 798.0ZM609.7 765.8L644.7 765.8L627.2 797.8ZM612.6 765.7L647.6 765.7L630.1 797.7ZM615.5 765.6L650.5 765.6L633.0 797.6ZM618.4 765.5L653.4 765.5L635.9 797.5ZM621.3 765.4L656.3 765.4L638.8 797.4ZM624.2 765.3L659.2 765.3L641.7 797.3ZM627.1 765.2L662.1 765.2L644.6 797.2ZM630.0 765.1L665.0 765.1L647.5 797.1ZM632.9 765.1L667.9 765.1L650.4 797.1ZM635.8 765.0L670.8 765.0L653.3 797.0ZM638.7 765.0L673.7 765.0L656.2 797.0ZM641.6 765.0L676.6 765.0L659.1 797.0ZM644.5 765.0L679.5 765.0L662.0 797.0ZM647.4 765.0L682.4 765.0L664.9 797.0ZM650.3 765.1L685.3 765.1L667.8 797.1ZM653.2 765.1L688.2 765.1L670.7 797.1ZM656.1 765.1L691.1 765.1L673.6 797.1ZM659.0 765.2L694.0 765.2L676.5 797.2ZM661.9 765.3L696.9 765.3L679.4 797.3ZM664.8 765.4L699.8 765.4L682.3 797.4ZM667.7 765.5L702.7 765.5L685.2 797.5ZM670.6 765.6L705.6 765.6L688.1 797.6ZM673.5 765.7L708.5 765.7L691.0 797.7ZM676.4 765.8L711.4 765.8L693.9 797.8ZM679.3 765.9L714.3 765.9L696.8 797.9ZM682.2 766.0L717.2 766.0L699.7 798.0ZM685.1 766.1L720.1 766.1L702.6 798.1ZM688.0 766.3L723.0 766.3L705.5 798.3ZM690.9 766.5L725.9 766.5L708.4 798.5ZM693.8 766.7L728.8 766.7L711.3 798.7ZM696.7 767.0L731.7 767.0L714.2 799.0ZM699.6 767.3L734.6 767.3L717.1 799.3ZM702.5 767.6L737.5 767.6L720.0 799.6ZM705.4 767.9L740.4 767.9L722.9 799.9ZM708.3 768.3L743.3 768.3L725.8 800.3ZM711.2 768.6L746.2 768.6L728.7 800.6ZM714.1 769.0L749.1 769.0L731.6 801.0ZM717.0 769.3L752.0 769.3L734.5 801.3ZM719.9 769.7L754.9 769.7L737.4 801.7ZM722.8 770.0L757.8 770.0L740.3 802.0ZM725.7 770.4L760.7 770.4L743.2 802.4ZM728.6 770.8L763.6 770.8L746.1 802.8ZM731.5 771.2L766.5 771.2L749.0 803.2ZM734.4 771.7L769.4 771.7L751.9 803.7ZM737.3 772.1L772.3 772.1L754.8 804.1ZM740.2 772.6L775.2 772.6L757.7 804.6ZM743.1 773.1L778.1 773.1L760.6 805.1ZM746.0 773.6L781.0 773.6L763.5 805.6ZM748.9 774.1L783.9 774.1L766.4 806.1ZM751.8 774.5L786.8 774.5L769.3 806.5ZM754.7 775.0L789.7 775.0L772.2 807.0ZM757.6 775.4L792.6 775.4L775.1 807.4ZM760.5 775.8L795.5 775.8L778.0 807.8ZM763.4 776.2L798.4 776.2L780.9 808.2ZM766.3 776.5L801.3 776.5L783.8 808.5ZM769.2 776.8L804.2 776.8L786.7 808.8ZM772.1 777.0L807.1 777.0L789.6 809.0ZM775.0 777.1L810.0 777.1L792.5 809.1ZM777.9 777.3L812.9 777.3L795.4 809.3ZM780.8 777.4L815.8 777.4L798.3 809.4ZM783.7 777.5L818.7 777.5L801.2 809.5ZM786.6 777.6L821.6 777.6L804.1 809.6ZM789.5 777.7L824.5 777.7L807.0 809.7ZM792.4 777.8L827.4 777.8L809.9 809.8ZM795.3 777.8L830.3 777.8L812.8 809.8ZM798.2 777.9L833.2 777.9L815.7 809.9ZM801.1 778.0L836.1 778.0L818.6 810.0ZM804.0 778.1L839.0 778.1L821.5 810.1ZM806.9 778.1L841.9 778.1L824.4 810.1ZM809.8 778.3L844.8 778.3L827.3 810.3ZM812.7 778.4L847.7 778.4L830.2 810.4ZM815.6 778.5L850.6 778.5L833.1 810.5ZM818.5 778.7L853.5 778.7L836.0 810.7ZM821.4 778.9L856.4 778.9L838.9 810.9ZM824.3 779.2L859.3 779.2L841.8 811.2ZM827.2 780.0L862.2 780.0L844.7 812.0ZM830.1 781.1L865.1 781.1L847.6 813.1ZM833.0 782.3L868.0 782.3L850.5 814.3ZM835.9 783.6L870.9 783.6L853.4 815.6ZM838.8 784.8L873.8 784.8L856.3 816.8ZM841.7 785.8L876.7 785.8L859.2 817.8ZM844.6 786.5L879.6 786.5L862.1 818.5ZM847.5 787.2L882.5 787.2L865.0 819.2ZM850.4 787.9L885.4 787.9L867.9 819.9ZM853.3 788.5L888.3 788.5L870.8 820.5ZM856.2 789.2L891.2 789.2L873.7 821.2ZM859.1 789.8L894.1 789.8L876.6 821.8ZM862.0 790.3L897.0 790.3L879.5 822.3ZM864.9 790.9L899.9 790.9L882.4 822.9ZM867.8 791.3L902.8 791.3L885.3 823.3ZM870.7 791.8L905.7 791.8L888.2 823.8ZM873.6 792.2L908.6 792.2L891.1 824.2ZM876.5 792.5L911.5 792.5L894.0 824.5ZM879.4 792.8L914.4 792.8L896.9 824.8ZM882.3 793.0L917.3 793.0L899.8 825.0ZM885.2 793.2L920.2 793.2L902.7 825.2ZM888.1 793.3L923.1 793.3L905.6 825.3ZM891.0 793.5L926.0 793.5L908.5 825.5ZM893.9 793.6L928.9 793.6L911.4 825.6ZM896.8 793.8L931.8 793.8L914.3 825.8ZM899.7 793.9L934.7 793.9L917.2 825.9ZM902.6 794.0L937.6 794.0L920.1 826.0ZM905.5 794.2L940.5 794.2L923.0 826.2ZM908.4 794.3L943.4 794.3L925.9 826.3ZM911.3 794.4L946.3 794.4L928.8 826.4ZM914.2 794.5L949.2 794.5L931.7 826.5ZM917.1 794.6L952.1 794.6L934.6 826.6ZM920.0 794.7L955.0 794.7L937.5 826.7ZM922.9 794.8L957.9 794.8L940.4 826.8ZM925.8 794.8L960.8 794.8L943.3 826.8ZM928.7 794.9L963.7 794.9L946.2 826.9ZM931.6 794.9L966.6 794.9L949.1 826.9ZM934.5 795.0L969.5 795.0L952.0 827.0ZM937.4 795.0L972.4 795.0L954.9 827.0ZM940.3 795.0L975.3 795.0L957.8 827.0ZM943.2 795.0L978.2 795.0L960.7 827.0ZM946.1 795.0L981.1 795.0L963.6 827.0ZM949.0 795.0L984.0 795.0L966.5 827.0ZM951.9 795.0L986.9 795.0L969.4 827.0ZM954.8 795.0L989.8 795.0L972.3 827.0ZM957.7 795.0L992.7 795.0L975.2 827.0ZM960.6 795.0L995.6 795.0L978.1 827.0ZM963.5 795.0L998.5 795.0L981.0 827.0ZM966.4 795.0L1001.4 795.0L983.9 827.0ZM969.3 795.0L1004.3 795.0L986.8 827.0ZM972.2 795.0L1007.2 795.0L989.7 827.0ZM975.1 795.0L1010.1 795.0L992.6 827.0ZM978.0 795.0L1013.0 795.0L995.5 827.0ZM980.9 795.0L1015.9 795.0L998.4 827.0ZM983.8 795.0L1018.8 795.0L1001.3 827.0ZM986.7 795.0L1021.7 795.0L1004.2 827.0ZM989.6 795.0L1024.6 795.0L1007.1 827.0ZM992.5 795.0L1027.5 795.0L1010.0 827.0ZM995.4 795.0L1030.4 795.0L1012.9 827.0ZM998.3 795.0L1033.3 795.0L1015.8 827.0ZM1003.1 520.7L1038.1 520.7L1020.6 552.7ZM1010.5 527.6L1045.5 527.6L1028.0 559.6ZM1014.0 570.0L1049.0 570.0L1031.5 602.0ZM1019.8 611.0L1054.8 611.0L1037.3 643.0ZM1027.1 639.6L1062.1 639.6L1044.6 671.6ZM1032.9 660.1L1067.9 660.1L1050.4 692.1ZM1038.7 672.0L1073.7 672.0L1056.2 704.0ZM1044.5 681.0L1079.5 681.0L1062.0 713.0ZM1050.3 689.9L1085.3 689.9L1067.8 721.9ZM1056.1 698.4L1091.1 698.4L1073.6 730.4ZM1061.9 705.6L1096.9 705.6L1079.4 737.6ZM1064.8 708.7L1099.8 708.7L1082.3 740.7ZM1067.7 711.7L1102.7 711.7L1085.2 743.7ZM1070.6 714.4L1105.6 714.4L1088.1 746.4ZM1073.5 716.9L1108.5 716.9L1091.0 748.9ZM1076.4 719.2L1111.4 719.2L1093.9 751.2ZM1079.3 721.2L1114.3 721.2L1096.8 753.2ZM1082.2 723.0L1117.2 723.0L1099.7 755.0ZM1085.1 724.7L1120.1 724.7L1102.6 756.7ZM1088.0 726.3L1123.0 726.3L1105.5 758.3ZM1090.9 727.8L1125.9 727.8L1108.4 759.8ZM1093.8 729.1L1128.8 729.1L1111.3 761.1ZM1096.7 730.4L1131.7 730.4L1114.2 762.4ZM1099.6 731.5L1134.6 731.5L1117.1 763.5ZM1102.5 732.5L1137.5 732.5L1120.0 764.5ZM1105.4 733.4L1140.4 733.4L1122.9 765.4ZM1108.3 734.2L1143.3 734.2L1125.8 766.2ZM1111.2 735.0L1146.2 735.0L1128.7 767.0ZM1114.1 735.8L1149.1 735.8L1131.6 767.8ZM1117.0 736.6L1152.0 736.6L1134.5 768.6ZM1119.9 737.3L1154.9 737.3L1137.4 769.3ZM1122.8 738.0L1157.8 738.0L1140.3 770.0ZM1125.7 738.6L1160.7 738.6L1143.2 770.6ZM1128.6 739.2L1163.6 739.2L1146.1 771.2ZM1131.5 739.8L1166.5 739.8L1149.0 771.8ZM1134.4 740.4L1169.4 740.4L1151.9 772.4ZM1137.3 740.9L1172.3 740.9L1154.8 772.9ZM1140.2 741.3L1175.2 741.3L1157.7 773.3ZM1143.1 741.7L1178.1 741.7L1160.6 773.7ZM1146.0 742.1L1181.0 742.1L1163.5 774.1ZM1148.9 742.4L1183.9 742.4L1166.4 774.4ZM1151.8 742.7L1186.8 742.7L1169.3 774.7ZM1154.7 743.0L1189.7 743.0L1172.2 775.0ZM1157.6 743.2L1192.6 743.2L1175.1 775.2ZM1160.5 743.5L1195.5 743.5L1178.0 775.5ZM1163.4 743.7L1198.4 743.7L1180.9 775.7ZM1166.3 743.9L1201.3 743.9L1183.8 775.9ZM1169.2 744.1L1204.2 744.1L1186.7 776.1ZM1172.1 744.3L1207.1 744.3L1189.6 776.3ZM1175.0 744.5L1210.0 744.5L1192.5 776.5ZM1177.9 744.7L1212.9 744.7L1195.4 776.7ZM1180.8 744.9L1215.8 744.9L1198.3 776.9ZM1183.7 745.0L1218.7 745.0L1201.2 777.0ZM1186.6 745.2L1221.6 745.2L1204.1 777.2ZM1189.5 745.4L1224.5 745.4L1207.0 777.4ZM1192.4 745.5L1227.4 745.5L1209.9 777.5ZM1195.3 745.6L1230.3 745.6L1212.8 777.6ZM1198.2 745.8L1233.2 745.8L1215.7 777.8ZM1201.1 745.9L1236.1 745.9L1218.6 777.9ZM1204.0 746.0L1239.0 746.0L1221.5 778.0ZM1206.9 746.2L1241.9 746.2L1224.4 778.2ZM1209.8 746.3L1244.8 746.3L1227.3 778.3ZM1212.7 746.4L1247.7 746.4L1230.2 778.4ZM1215.6 746.5L1250.6 746.5L1233.1 778.5ZM1218.5 746.6L1253.5 746.6L1236.0 778.6ZM1221.4 746.7L1256.4 746.7L1238.9 778.7ZM1224.3 746.8L1259.3 746.8L1241.8 778.8ZM1227.2 746.9L1262.2 746.9L1244.7 778.9ZM1230.1 747.0L1265.1 747.0L1247.6 779.0ZM1233.0 747.0L1268.0 747.0L1250.5 779.0ZM1235.9 747.1L1270.9 747.1L1253.4 779.1ZM1238.8 747.1L1273.8 747.1L1256.3 779.1ZM1241.7 747.2L1276.7 747.2L1259.2 779.2ZM1244.6 747.3L1279.6 747.3L1262.1 779.3ZM1247.5 747.5L1282.5 747.5L1265.0 779.5ZM1250.4 748.1L1285.4 748.1L1267.9 780.1ZM1253.3 749.5L1288.3 749.5L1270.8 781.5ZM1256.2 751.4L1291.2 751.4L1273.7 783.4ZM1259.1 753.4L1294.1 753.4L1276.6 785.4ZM1262.0 755.6L1297.0 755.6L1279.5 787.6ZM1264.9 758.7L1299.9 758.7L1282.4 790.7ZM1267.8 762.0L1302.8 762.0L1285.3 794.0ZM1270.7 764.8L1305.7 764.8L1288.2 796.8ZM1273.6 766.7L1308.6 766.7L1291.1 798.7ZM1276.5 768.2L1311.5 768.2L1294.0 800.2ZM1279.4 769.5L1314.4 769.5L1296.9 801.5ZM1282.3 770.5L1317.3 770.5L1299.8 802.5ZM1285.2 771.3L1320.2 771.3L1302.7 803.3ZM1288.1 771.9L1323.1 771.9L1305.6 803.9ZM1291.0 772.5L1326.0 772.5L1308.5 804.5ZM1293.9 773.0L1328.9 773.0L1311.4 805.0ZM1296.8 773.5L1331.8 773.5L1314.3 805.5ZM1299.7 773.9L1334.7 773.9L1317.2 805.9ZM1302.6 774.3L1337.6 774.3L1320.1 806.3ZM1305.5 774.7L1340.5 774.7L1323.0 806.7ZM1308.4 775.0L1343.4 775.0L1325.9 807.0ZM1311.3 775.4L1346.3 775.4L1328.8 807.4ZM1314.2 775.7L1349.2 775.7L1331.7 807.7ZM1317.1 776.0L1352.1 776.0L1334.6 808.0ZM1320.0 776.3L1355.0 776.3L1337.5 808.3ZM1322.9 776.7L1357.9 776.7L1340.4 808.7ZM1325.8 777.1L1360.8 777.1L1343.3 809.1ZM1328.7 777.4L1363.7 777.4L1346.2 809.4ZM1331.6 777.9L1366.6 777.9L1349.1 809.9ZM1334.5 778.3L1369.5 778.3L1352.0 810.3ZM1337.4 778.9L1372.4 778.9L1354.9 810.9ZM1340.3 779.5L1375.3 779.5L1357.8 811.5ZM1343.2 780.2L1378.2 780.2L1360.7 812.2ZM1346.1 780.8L1381.1 780.8L1363.6 812.8ZM1349.0 781.3L1384.0 781.3L1366.5 813.3ZM1351.9 781.7L1386.9 781.7L1369.4 813.7ZM1354.8 782.0L1389.8 782.0L1372.3 814.0ZM1357.7 782.0L1392.7 782.0L1375.2 814.0ZM1360.6 781.8L1395.6 781.8L1378.1 813.8ZM1363.5 781.6L1398.5 781.6L1381.0 813.6ZM1366.4 781.2L1401.4 781.2L1383.9 813.2ZM1369.3 780.8L1404.3 780.8L1386.8 812.8ZM1372.2 780.4L1407.2 780.4L1389.7 812.4ZM1375.1 780.0L1410.1 780.0L1392.6 812.0ZM1378.0 779.7L1413.0 779.7L1395.5 811.7ZM1380.9 779.5L1415.9 779.5L1398.4 811.5ZM1383.8 779.4L1418.8 779.4L1401.3 811.4ZM1386.7 779.2L1421.7 779.2L1404.2 811.2ZM1389.6 779.1L1424.6 779.1L1407.1 811.1ZM1392.5 779.0L1427.5 779.0L1410.0 811.0ZM1395.4 778.9L1430.4 778.9L1412.9 810.9ZM1398.3 778.8L1433.3 778.8L1415.8 810.8ZM1401.2 778.7L1436.2 778.7L1418.7 810.7ZM1404.1 778.6L1439.1 778.6L1421.6 810.6ZM1407.0 778.6L1442.0 778.6L1424.5 810.6ZM1409.9 778.5L1444.9 778.5L1427.4 810.5ZM1412.8 778.5L1447.8 778.5L1430.3 810.5ZM1415.7 778.5L1450.7 778.5L1433.2 810.5ZM1418.6 778.6L1453.6 778.6L1436.1 810.6ZM1421.5 779.0L1456.5 779.0L1439.0 811.0ZM1424.4 779.7L1459.4 779.7L1441.9 811.7ZM1427.3 780.7L1462.3 780.7L1444.8 812.7ZM1430.2 781.7L1465.2 781.7L1447.7 813.7ZM1433.1 782.8L1468.1 782.8L1450.6 814.8ZM1436.0 783.9L1471.0 783.9L1453.5 815.9ZM1438.9 784.9L1473.9 784.9L1456.4 816.9ZM1441.8 785.7L1476.8 785.7L1459.3 817.7ZM1444.7 786.6L1479.7 786.6L1462.2 818.6ZM1447.6 787.6L1482.6 787.6L1465.1 819.6ZM1450.5 788.6L1485.5 788.6L1468.0 820.6ZM1453.4 789.5L1488.4 789.5L1470.9 821.5ZM1456.3 790.2L1491.3 790.2L1473.8 822.2ZM1459.2 790.8L1494.2 790.8L1476.7 822.8ZM1462.1 791.0L1497.1 791.0L1479.6 823.0ZM1465.0 791.0L1500.0 791.0L1482.5 823.0ZM1467.9 790.9L1502.9 790.9L1485.4 822.9ZM1470.8 790.8L1505.8 790.8L1488.3 822.8ZM1473.7 790.6L1508.7 790.6L1491.2 822.6ZM1476.6 790.4L1511.6 790.4L1494.1 822.4ZM1479.5 790.2L1514.5 790.2L1497.0 822.2ZM1482.4 790.0L1517.4 790.0L1499.9 822.0ZM1485.3 789.8L1520.3 789.8L1502.8 821.8ZM1488.2 789.5L1523.2 789.5L1505.7 821.5ZM1491.1 789.3L1526.1 789.3L1508.6 821.3ZM1494.0 789.0L1529.0 789.0L1511.5 821.0ZM1496.9 788.6L1531.9 788.6L1514.4 820.6ZM1499.8 788.3L1534.8 788.3L1517.3 820.3ZM1502.7 788.0L1537.7 788.0L1520.2 820.0ZM1505.6 787.6L1540.6 787.6L1523.1 819.6ZM1508.5 787.3L1543.5 787.3L1526.0 819.3ZM1511.4 786.9L1546.4 786.9L1528.9 818.9ZM1514.3 786.6L1549.3 786.6L1531.8 818.6ZM1517.2 786.3L1552.2 786.3L1534.7 818.3ZM1520.1 786.0L1555.1 786.0L1537.6 818.0ZM1523.0 785.8L1558.0 785.8L1540.5 817.8ZM1525.9 785.6L1560.9 785.6L1543.4 817.6ZM1528.8 785.3L1563.8 785.3L1546.3 817.3ZM1531.7 785.1L1566.7 785.1L1549.2 817.1ZM1534.6 784.9L1569.6 784.9L1552.1 816.9ZM1537.5 784.8L1572.5 784.8L1555.0 816.8ZM1540.4 784.6L1575.4 784.6L1557.9 816.6ZM1543.3 784.4L1578.3 784.4L1560.8 816.4ZM1546.2 784.2L1581.2 784.2L1563.7 816.2ZM1549.1 784.1L1584.1 784.1L1566.6 816.1ZM1552.0 783.9L1587.0 783.9L1569.5 815.9ZM1554.9 783.8L1589.9 783.8L1572.4 815.8ZM1557.8 783.6L1592.8 783.6L1575.3 815.6ZM1560.7 783.4L1595.7 783.4L1578.2 815.4ZM1563.6 783.3L1598.6 783.3L1581.1 815.3ZM1566.5 783.1L1601.5 783.1L1584.0 815.1ZM1569.4 783.0L1604.4 783.0L1586.9 815.0ZM1572.3 782.8L1607.3 782.8L1589.8 814.8ZM1575.2 782.6L1610.2 782.6L1592.7 814.6ZM1578.1 782.4L1613.1 782.4L1595.6 814.4ZM1581.0 782.3L1616.0 782.3L1598.5 814.3ZM1583.9 782.1L1618.9 782.1L1601.4 814.1ZM1586.8 781.9L1621.8 781.9L1604.3 813.9ZM1589.7 781.6L1624.7 781.6L1607.2 813.6ZM1592.6 781.4L1627.6 781.4L1610.1 813.4ZM1595.5 781.2L1630.5 781.2L1613.0 813.2ZM1598.4 780.9L1633.4 780.9L1615.9 812.9ZM1601.3 780.6L1636.3 780.6L1618.8 812.6ZM1604.2 780.4L1639.2 780.4L1621.7 812.4ZM1607.1 780.0L1642.1 780.0L1624.6 812.0ZM1610.0 779.7L1645.0 779.7L1627.5 811.7ZM1612.9 779.3L1647.9 779.3L1630.4 811.3ZM1615.8 778.8L1650.8 778.8L1633.3 810.8ZM1618.7 778.2L1653.7 778.2L1636.2 810.2ZM1621.6 777.6L1656.6 777.6L1639.1 809.6ZM1624.5 776.9L1659.5 776.9L1642.0 808.9ZM1627.4 776.3L1662.4 776.3L1644.9 808.3ZM1630.3 775.6L1665.3 775.6L1647.8 807.6ZM1633.2 775.0L1668.2 775.0L1650.7 807.0ZM1636.1 774.3L1671.1 774.3L1653.6 806.3ZM1639.0 773.7L1674.0 773.7L1656.5 805.7ZM1641.9 773.1L1676.9 773.1L1659.4 805.1ZM1644.8 772.6L1679.8 772.6L1662.3 804.6ZM1647.7 771.9L1682.7 771.9L1665.2 803.9ZM1650.6 771.3L1685.6 771.3L1668.1 803.3ZM1653.5 770.6L1688.5 770.6L1671.0 802.6ZM1656.4 769.9L1691.4 769.9L1673.9 801.9ZM1659.3 769.3L1694.3 769.3L1676.8 801.3ZM1662.2 768.6L1697.2 768.6L1679.7 800.6ZM1665.1 768.0L1700.1 768.0L1682.6 800.0ZM1668.0 767.5L1703.0 767.5L1685.5 799.5ZM1670.9 767.0L1705.9 767.0L1688.4 799.0ZM1673.8 766.6L1708.8 766.6L1691.3 798.6ZM1676.7 766.3L1711.7 766.3L1694.2 798.3ZM1679.6 766.1L1714.6 766.1L1697.1 798.1ZM1682.5 766.0L1717.5 766.0L1700.0 798.0ZM1685.4 766.1L1720.4 766.1L1702.9 798.1ZM1688.3 766.5L1723.3 766.5L1705.8 798.5ZM1691.2 767.0L1726.2 767.0L1708.7 799.0ZM1694.1 767.7L1729.1 767.7L1711.6 799.7ZM1697.0 768.4L1732.0 768.4L1714.5 800.4ZM1699.9 769.1L1734.9 769.1L1717.4 801.1ZM1702.8 769.8L1737.8 769.8L1720.3 801.8ZM1705.7 770.3L1740.7 770.3L1723.2 802.3ZM1708.6 770.8L1743.6 770.8L1726.1 802.8ZM1711.5 771.0L1746.5 771.0L1729.0 803.0ZM1714.4 771.0L1749.4 771.0L1731.9 803.0ZM1717.3 771.0L1752.3 771.0L1734.8 803.0ZM1720.2 770.9L1755.2 770.9L1737.7 802.9ZM1723.1 770.8L1758.1 770.8L1740.6 802.8ZM1726.0 770.7L1761.0 770.7L1743.5 802.7ZM1728.9 770.5L1763.9 770.5L1746.4 802.5ZM1731.8 770.4L1766.8 770.4L1749.3 802.4ZM1734.7 770.2L1769.7 770.2L1752.2 802.2ZM1737.6 770.0L1772.6 770.0L1755.1 802.0ZM1740.5 769.8L1775.5 769.8L1758.0 801.8ZM1743.4 769.6L1778.4 769.6L1760.9 801.6ZM1746.3 769.3L1781.3 769.3L1763.8 801.3ZM1749.2 769.1L1784.2 769.1L1766.7 801.1ZM1752.1 768.8L1787.1 768.8L1769.6 800.8ZM1755.0 768.5L1790.0 768.5L1772.5 800.5ZM1757.9 768.0L1792.9 768.0L1775.4 800.0ZM1760.8 767.4L1795.8 767.4L1778.3 799.4ZM1763.7 766.7L1798.7 766.7L1781.2 798.7ZM1766.6 766.0L1801.6 766.0L1784.1 798.0ZM1769.5 765.2L1804.5 765.2L1787.0 797.2ZM1772.4 764.5L1807.4 764.5L1789.9 796.5ZM1775.3 763.9L1810.3 763.9L1792.8 795.9ZM1778.2 763.4L1813.2 763.4L1795.7 795.4ZM1781.1 763.1L1816.1 763.1L1798.6 795.1ZM1784.0 762.9L1819.0 762.9L1801.5 794.9ZM1786.9 762.8L1821.9 762.8L1804.4 794.8ZM1789.8 762.7L1824.8 762.7L1807.3 794.7ZM1792.7 762.6L1827.7 762.6L1810.2 794.6ZM1795.6 762.5L1830.6 762.5L1813.1 794.5ZM1798.5 762.4L1833.5 762.4L1816.0 794.4ZM1801.4 762.3L1836.4 762.3L1818.9 794.3ZM1804.3 762.2L1839.3 762.2L1821.8 794.2ZM1807.2 762.1L1842.2 762.1L1824.7 794.1ZM1810.1 762.0L1845.1 762.0L1827.6 794.0ZM1813.0 762.0L1848.0 762.0L1830.5 794.0ZM1815.9 761.9L1850.9 761.9L1833.4 793.9ZM1818.8 761.8L1853.8 761.8L1836.3 793.8ZM1821.7 761.8L1856.7 761.8L1839.2 793.8ZM1824.6 761.7L1859.6 761.7L1842.1 793.7ZM1827.5 761.7L1862.5 761.7L1845.0 793.7ZM1830.4 761.6L1865.4 761.6L1847.9 793.6ZM1833.3 761.6L1868.3 761.6L1850.8 793.6ZM1836.2 761.6L1871.2 761.6L1853.7 793.6ZM1839.1 761.6L1874.1 761.6L1856.6 793.6ZM1842.0 761.5L1877.0 761.5L1859.5 793.5ZM1844.9 761.5L1879.9 761.5L1862.4 793.5ZM1847.8 761.5L1882.8 761.5L1865.3 793.5ZM1850.7 761.5L1885.7 761.5L1868.2 793.5ZM1853.6 761.5L1888.6 761.5L1871.1 793.5ZM1856.5 761.5L1891.5 761.5L1874.0 793.5ZM1859.4 761.5L1894.4 761.5L1876.9 793.5ZM1862.3 761.5L1897.3 761.5L1879.8 793.5ZM1865.2 761.5L1900.2 761.5L1882.7 793.5ZM1868.1 761.5L1903.1 761.5L1885.6 793.5ZM1871.0 761.5L1906.0 761.5L1888.5 793.5ZM1873.9 761.5L1908.9 761.5L1891.4 793.5ZM1876.8 761.5L1911.8 761.5L1894.3 793.5ZM1879.7 761.5L1914.7 761.5L1897.2 793.5ZM1882.6 761.5L1917.6 761.5L1900.1 793.5ZM1885.5 761.5L1920.5 761.5L1903.0 793.5ZM1888.4 761.5L1923.4 761.5L1905.9 793.5ZM1891.3 761.4L1926.3 761.4L1908.8 793.4ZM1894.2 761.3L1929.2 761.3L1911.7 793.3ZM1897.1 761.2L1932.1 761.2L1914.6 793.2ZM1900.0 761.1L1935.0 761.1L1917.5 793.1ZM1902.9 761.0L1937.9 761.0L1920.4 793.0ZM1905.8 760.9L1940.8 760.9L1923.3 792.9ZM1908.7 760.7L1943.7 760.7L1926.2 792.7ZM1911.6 760.6L1946.6 760.6L1929.1 792.6ZM1914.5 760.4L1949.5 760.4L1932.0 792.4ZM1917.4 760.2L1952.4 760.2L1934.9 792.2ZM1920.3 760.1L1955.3 760.1L1937.8 792.1ZM1923.2 759.9L1958.2 759.9L1940.7 791.9ZM1926.1 759.7L1961.1 759.7L1943.6 791.7ZM1929.0 759.5L1964.0 759.5L1946.5 791.5ZM1931.9 759.3L1966.9 759.3L1949.4 791.3ZM1934.8 759.1L1969.8 759.1L1952.3 791.1ZM1937.7 758.9L1972.7 758.9L1955.2 790.9ZM1940.6 758.7L1975.6 758.7L1958.1 790.7ZM1943.5 758.5L1978.5 758.5L1961.0 790.5ZM1946.4 758.3L1981.4 758.3L1963.9 790.3ZM1949.3 758.1L1984.3 758.1L1966.8 790.1ZM1952.2 757.8L1987.2 757.8L1969.7 789.8ZM1955.1 757.6L1990.1 757.6L1972.6 789.6ZM1958.0 757.3L1993.0 757.3L1975.5 789.3ZM1960.9 757.0L1995.9 757.0L1978.4 789.0ZM1963.8 756.7L1998.8 756.7L1981.3 788.7ZM1966.7 756.4L2001.7 756.4L1984.2 788.4ZM1969.6 756.1L2004.6 756.1L1987.1 788.1ZM1972.5 755.8L2007.5 755.8L1990.0 787.8ZM1975.4 755.6L2010.4 755.6L1992.9 787.6ZM1978.3 755.3L2013.3 755.3L1995.8 787.3ZM1981.2 755.1L2016.2 755.1L1998.7 787.1ZM1984.1 754.9L2019.1 754.9L2001.6 786.9ZM1987.0 754.7L2022.0 754.7L2004.5 786.7ZM1989.9 754.5L2024.9 754.5L2007.4 786.5ZM1992.8 754.3L2027.8 754.3L2010.3 786.3ZM1995.7 754.2L2030.7 754.2L2013.2 786.2ZM1998.6 754.0L2033.6 754.0L2016.1 786.0ZM2001.5 753.8L2036.5 753.8L2019.0 785.8ZM2004.4 753.7L2039.4 753.7L2021.9 785.7ZM2007.3 753.5L2042.3 753.5L2024.8 785.5ZM2008.7 753.5L2043.7 753.5L2026.2 785.5ZM2010.2 753.4L2045.2 753.4L2027.7 785.4Z" fill="#4A4388"/>
<path d="M327.0 1505.0L332.8 1497.8L338.6 1489.0L344.4 1477.8L350.2 1465.5L356.0 1454.8L361.8 1445.2L367.6 1434.5L373.4 1422.9L379.2 1410.1L385.0 1395.2L390.8 1377.1L396.6 1359.4L402.4 1342.6L408.2 1320.3L414.0 1290.7L419.8 1265.4L425.6 1240.8L431.4 1213.2L437.2 1184.8L443.0 1156.8L448.8 1121.4L454.6 1084.6L460.4 1050.6L466.2 1015.6L472.0 985.8L477.8 963.3L483.6 946.6L489.4 932.5L495.2 920.8L501.0 910.0L506.8 900.6L512.6 893.4L515.5 890.4L518.4 887.7L521.3 885.1L524.2 882.7L527.1 880.5L530.0 878.5L532.9 876.6L535.8 874.8L538.7 873.2L541.6 871.7L544.5 870.3L547.4 869.0L550.3 867.9L553.2 866.7L556.1 865.7L559.0 864.6L561.9 863.6L564.8 862.6L567.7 861.5L570.6 860.5L573.5 859.5L576.4 858.5L579.3 857.6L582.2 856.6L585.1 855.7L588.0 854.8L590.9 853.9L593.8 853.1L596.7 852.2L599.6 851.4L602.5 850.5L605.4 849.7L608.3 848.8L611.2 848.0L614.1 847.2L617.0 846.4L619.9 845.5L622.8 844.8L625.7 844.0L628.6 843.2L631.5 842.5L634.4 841.8L637.3 841.1L640.2 840.4L643.1 839.8L646.0 839.2L648.9 838.7L651.8 838.2L654.7 837.7L657.6 837.3L660.5 836.9L663.4 836.5L666.3 836.2L669.2 835.8L672.1 835.5L675.0 835.2L677.9 835.0L680.8 834.7L683.7 834.4L686.6 834.1L689.5 833.9L692.4 833.6L695.3 833.3L698.2 833.0L701.1 832.6L704.0 832.2L706.9 831.9L709.8 831.4L712.7 831.0L715.6 830.6L718.5 830.1L721.4 829.7L724.3 829.3L727.2 828.8L730.1 828.4L733.0 828.0L735.9 827.5L738.8 827.2L741.7 826.8L744.6 826.4L747.5 826.1L750.4 825.8L753.3 825.4L756.2 825.1L759.1 824.8L762.0 824.5L764.9 824.2L767.8 823.9L770.7 823.6L773.6 823.2L776.5 822.9L779.4 822.6L782.3 822.3L785.2 822.0L788.1 821.6L791.0 821.3L793.9 820.9L796.8 820.6L799.7 820.2L802.6 819.9L805.5 819.5L808.4 819.2L811.3 818.8L814.2 818.5L817.1 818.1L820.0 817.7L822.9 817.3L825.8 816.9L828.7 816.5L831.6 816.1L834.5 815.6L837.4 815.2L840.3 814.7L843.2 814.2L846.1 813.6L849.0 813.0L851.9 812.3L854.8 811.7L857.7 811.0L860.6 810.4L863.5 809.7L866.4 809.1L869.3 808.6L872.2 808.1L875.1 807.6L878.0 807.2L880.9 806.7L883.8 806.3L886.7 805.8L889.6 805.4L892.5 805.0L895.4 804.6L898.3 804.3L901.2 803.9L904.1 803.6L907.0 803.2L909.9 802.9L912.8 802.6L915.7 802.3L918.6 802.0L921.5 801.7L924.4 801.5L927.3 801.2L930.2 801.0L933.1 800.7L936.0 800.5L938.9 800.2L941.8 800.0L944.7 799.8L947.6 799.6L950.5 799.3L953.4 799.1L956.3 798.9L959.2 798.7L962.1 798.4L965.0 798.2L967.9 798.0L970.8 797.7L973.7 797.5L976.6 797.2L979.5 797.0L982.4 796.7L985.3 796.5L988.2 796.2L991.1 795.9L994.0 795.6L996.9 795.3L999.8 795.0L1002.7 794.7L1005.6 794.4L1008.5 794.1L1011.4 793.8L1014.3 793.5L1017.2 793.2L1020.1 792.9L1023.0 792.6L1025.9 792.3L1028.8 791.9L1031.7 791.6L1034.6 791.3L1037.5 791.0L1040.4 790.6L1043.3 790.3L1046.2 790.0L1049.1 789.6L1052.0 789.3L1054.9 789.0L1057.8 788.6L1058.8 788.5L1059.8 788.4" fill="none" stroke="#B3508F" stroke-width="4.5" stroke-linejoin="round"/>
<path d="M1064.0 828.0L1069.8 836.7L1075.6 845.4L1081.4 853.9L1087.2 861.1L1090.1 864.2L1093.0 866.9L1095.9 869.3L1098.8 871.5L1101.7 873.4L1104.6 875.1L1107.5 876.5L1110.4 877.9L1113.3 879.1L1116.2 880.3L1119.1 881.3L1122.0 882.4L1124.9 883.4L1127.8 884.3L1130.7 885.3L1133.6 886.2L1136.5 887.2L1139.4 888.0L1142.3 888.9L1145.2 889.7L1148.1 890.4L1151.0 891.1L1153.9 891.8L1156.8 892.4L1159.7 892.9L1162.6 893.5L1165.5 894.0L1168.4 894.5L1171.3 895.0L1174.2 895.4L1177.1 895.9L1180.0 896.3L1182.9 896.7L1185.8 897.1L1188.7 897.5L1191.6 897.8L1194.5 898.2L1197.4 898.6L1200.3 899.0L1203.2 899.4L1206.1 899.8L1209.0 900.1L1211.9 900.5L1214.8 900.8L1217.7 901.1L1220.6 901.4L1223.5 901.7L1226.4 901.9L1229.3 902.1L1232.2 902.3L1235.1 902.4L1238.0 902.4L1240.9 902.5L1243.8 902.5L1246.7 902.5L1249.6 902.6L1252.5 902.6L1255.4 902.7L1258.3 902.7L1261.2 902.7L1264.1 902.8L1267.0 902.8L1269.9 902.8L1272.8 902.8L1275.7 902.9L1278.6 902.9L1281.5 902.9L1284.4 902.9L1287.3 902.9L1290.2 903.0L1293.1 903.0L1296.0 903.0L1298.9 903.0L1301.8 903.0L1304.7 903.0L1307.6 903.0L1310.5 903.0L1313.4 903.0L1316.3 903.0L1319.2 903.0L1322.1 902.9L1325.0 902.9L1327.9 902.9L1330.8 902.8L1333.7 902.8L1336.6 902.7L1339.5 902.7L1342.4 902.6L1345.3 902.5L1348.2 902.5L1351.1 902.4L1354.0 902.3L1356.9 902.3L1359.8 902.2L1362.7 902.1L1365.6 902.1L1368.5 902.0L1371.4 901.9L1374.3 901.9L1377.2 901.8L1380.1 901.8L1383.0 901.7L1385.9 901.7L1388.8 901.6L1391.7 901.6L1394.6 901.6L1397.5 901.5L1400.4 901.5L1403.3 901.5L1406.2 901.5L1409.1 901.5L1412.0 901.5L1414.9 901.5L1417.8 901.5L1420.7 901.5L1423.6 901.5L1426.5 901.6L1429.4 901.6L1432.3 901.6L1435.2 901.6L1438.1 901.6L1441.0 901.7L1443.9 901.7L1446.8 901.7L1449.7 901.7L1452.6 901.7L1455.5 901.8L1458.4 901.8L1461.3 901.8L1464.2 901.8L1467.1 901.9L1470.0 901.9L1472.9 901.9L1475.8 901.9L1478.7 901.9L1481.6 902.0L1484.5 902.0L1487.4 902.0L1490.3 902.0L1493.2 902.0L1496.1 902.0L1499.0 902.0L1501.9 902.0L1504.8 902.0L1507.7 902.0L1510.6 902.0L1513.5 902.0L1516.4 902.0L1519.3 902.0L1522.2 902.0L1525.1 902.0L1528.0 902.0L1530.9 902.0L1533.8 902.0L1536.7 902.0L1539.6 902.0L1542.5 902.0L1545.4 902.0L1548.3 902.0L1551.2 902.0L1554.1 902.0L1557.0 902.0L1559.9 902.0L1562.8 902.0L1565.7 902.0L1568.6 902.0L1571.5 902.0L1574.4 902.0L1577.3 902.0L1580.2 902.0L1583.1 902.0L1586.0 902.0L1588.9 902.0L1591.8 902.0L1594.7 902.0L1597.6 902.0L1600.5 902.0L1603.4 901.9L1606.3 901.8L1609.2 901.5L1612.1 901.2L1615.0 900.8L1617.9 900.4L1620.8 899.8L1623.7 898.0L1626.6 895.7L1629.5 894.3L1632.4 894.3L1635.3 894.4L1638.2 894.5L1641.1 894.6L1644.0 894.7L1646.9 894.8L1649.8 895.0L1652.7 895.2L1655.6 895.5L1658.5 895.9L1661.4 896.3L1664.3 896.8L1667.2 897.3L1670.1 897.8L1673.0 898.2L1675.9 898.6L1678.8 898.9L1681.7 899.1L1684.6 899.3L1687.5 899.5L1690.4 899.8L1693.3 900.0L1696.2 900.2L1699.1 900.4L1702.0 900.5L1704.9 900.7L1707.8 900.9L1710.7 901.1L1713.6 901.2L1716.5 901.4L1719.4 901.6L1722.3 901.7L1725.2 901.8L1728.1 902.0L1731.0 902.1L1733.9 902.2L1736.8 902.3L1739.7 902.4L1742.6 902.5L1745.5 902.5L1748.4 902.6L1751.3 902.6L1754.2 902.7L1757.1 902.7L1760.0 902.7L1762.9 902.7L1765.8 902.7L1768.7 902.7L1771.6 902.7L1774.5 902.7L1777.4 902.7L1780.3 902.7L1783.2 902.7L1786.1 902.7L1789.0 902.7L1791.9 902.6L1794.8 902.6L1797.7 902.6L1800.6 902.6L1803.5 902.6L1806.4 902.6L1809.3 902.6L1812.2 902.5L1815.1 902.5L1818.0 902.5L1820.9 902.4L1823.8 902.4L1826.7 902.4L1829.6 902.3L1832.5 902.3L1835.4 902.3L1838.3 902.2L1841.2 902.2L1844.1 902.1L1847.0 902.1L1849.9 902.0L1852.8 901.9L1855.7 901.9L1858.6 901.8L1861.5 901.7L1864.4 901.7L1867.3 901.6L1870.2 901.5L1873.1 900.6L1876.0 899.0L1876.5 898.7L1877.0 898.5" fill="none" stroke="#B3508F" stroke-width="4.5" stroke-linejoin="round"/>
<path d="M311.5 1505.0L342.5 1486.5L342.5 1523.5ZM317.3 1497.8L348.3 1479.3L348.3 1516.3ZM323.1 1489.0L354.1 1470.5L354.1 1507.5ZM328.9 1477.8L359.9 1459.3L359.9 1496.3ZM334.7 1465.5L365.7 1447.0L365.7 1484.0ZM340.5 1454.8L371.5 1436.3L371.5 1473.3ZM346.3 1445.2L377.3 1426.7L377.3 1463.7ZM352.1 1434.5L383.1 1416.0L383.1 1453.0ZM357.9 1422.9L388.9 1404.4L388.9 1441.4ZM363.7 1410.1L394.7 1391.6L394.7 1428.6ZM369.5 1395.2L400.5 1376.7L400.5 1413.7ZM375.3 1377.1L406.3 1358.6L406.3 1395.6ZM381.1 1359.4L412.1 1340.9L412.1 1377.9ZM386.9 1342.6L417.9 1324.1L417.9 1361.1ZM392.7 1320.3L423.7 1301.8L423.7 1338.8ZM398.5 1290.7L429.5 1272.2L429.5 1309.2ZM404.3 1265.4L435.3 1246.9L435.3 1283.9ZM410.1 1240.8L441.1 1222.3L441.1 1259.3ZM415.9 1213.2L446.9 1194.7L446.9 1231.7ZM421.7 1184.8L452.7 1166.3L452.7 1203.3ZM427.5 1156.8L458.5 1138.3L458.5 1175.3ZM433.3 1121.4L464.3 1102.9L464.3 1139.9ZM439.1 1084.6L470.1 1066.1L470.1 1103.1ZM444.9 1050.6L475.9 1032.1L475.9 1069.1ZM450.7 1015.6L481.7 997.1L481.7 1034.1ZM456.5 985.8L487.5 967.3L487.5 1004.3ZM462.3 963.3L493.3 944.8L493.3 981.8ZM468.1 946.6L499.1 928.1L499.1 965.1ZM473.9 932.5L504.9 914.0L504.9 951.0ZM479.7 920.8L510.7 902.3L510.7 939.3ZM485.5 910.0L516.5 891.5L516.5 928.5ZM491.3 900.6L522.3 882.1L522.3 919.1ZM497.1 893.4L528.1 874.9L528.1 911.9ZM500.0 890.4L531.0 871.9L531.0 908.9ZM502.9 887.7L533.9 869.2L533.9 906.2ZM505.8 885.1L536.8 866.6L536.8 903.6ZM508.7 882.7L539.7 864.2L539.7 901.2ZM511.6 880.5L542.6 862.0L542.6 899.0ZM514.5 878.5L545.5 860.0L545.5 897.0ZM517.4 876.6L548.4 858.1L548.4 895.1ZM520.3 874.8L551.3 856.3L551.3 893.3ZM523.2 873.2L554.2 854.7L554.2 891.7ZM526.1 871.7L557.1 853.2L557.1 890.2ZM529.0 870.3L560.0 851.8L560.0 888.8ZM531.9 869.0L562.9 850.5L562.9 887.5ZM534.8 867.9L565.8 849.4L565.8 886.4ZM537.7 866.7L568.7 848.2L568.7 885.2ZM540.6 865.7L571.6 847.2L571.6 884.2ZM543.5 864.6L574.5 846.1L574.5 883.1ZM546.4 863.6L577.4 845.1L577.4 882.1ZM549.3 862.6L580.3 844.1L580.3 881.1ZM552.2 861.5L583.2 843.0L583.2 880.0ZM555.1 860.5L586.1 842.0L586.1 879.0ZM558.0 859.5L589.0 841.0L589.0 878.0ZM560.9 858.5L591.9 840.0L591.9 877.0ZM563.8 857.6L594.8 839.1L594.8 876.1ZM566.7 856.6L597.7 838.1L597.7 875.1ZM569.6 855.7L600.6 837.2L600.6 874.2ZM572.5 854.8L603.5 836.3L603.5 873.3ZM575.4 853.9L606.4 835.4L606.4 872.4ZM578.3 853.1L609.3 834.6L609.3 871.6ZM581.2 852.2L612.2 833.7L612.2 870.7ZM584.1 851.4L615.1 832.9L615.1 869.9ZM587.0 850.5L618.0 832.0L618.0 869.0ZM589.9 849.7L620.9 831.2L620.9 868.2ZM592.8 848.8L623.8 830.3L623.8 867.3ZM595.7 848.0L626.7 829.5L626.7 866.5ZM598.6 847.2L629.6 828.7L629.6 865.7ZM601.5 846.4L632.5 827.9L632.5 864.9ZM604.4 845.5L635.4 827.0L635.4 864.0ZM607.3 844.8L638.3 826.3L638.3 863.3ZM610.2 844.0L641.2 825.5L641.2 862.5ZM613.1 843.2L644.1 824.7L644.1 861.7ZM616.0 842.5L647.0 824.0L647.0 861.0ZM618.9 841.8L649.9 823.3L649.9 860.3ZM621.8 841.1L652.8 822.6L652.8 859.6ZM624.7 840.4L655.7 821.9L655.7 858.9ZM627.6 839.8L658.6 821.3L658.6 858.3ZM630.5 839.2L661.5 820.7L661.5 857.7ZM633.4 838.7L664.4 820.2L664.4 857.2ZM636.3 838.2L667.3 819.7L667.3 856.7ZM639.2 837.7L670.2 819.2L670.2 856.2ZM642.1 837.3L673.1 818.8L673.1 855.8ZM645.0 836.9L676.0 818.4L676.0 855.4ZM647.9 836.5L678.9 818.0L678.9 855.0ZM650.8 836.2L681.8 817.7L681.8 854.7ZM653.7 835.8L684.7 817.3L684.7 854.3ZM656.6 835.5L687.6 817.0L687.6 854.0ZM659.5 835.2L690.5 816.7L690.5 853.7ZM662.4 835.0L693.4 816.5L693.4 853.5ZM665.3 834.7L696.3 816.2L696.3 853.2ZM668.2 834.4L699.2 815.9L699.2 852.9ZM671.1 834.1L702.1 815.6L702.1 852.6ZM674.0 833.9L705.0 815.4L705.0 852.4ZM676.9 833.6L707.9 815.1L707.9 852.1ZM679.8 833.3L710.8 814.8L710.8 851.8ZM682.7 833.0L713.7 814.5L713.7 851.5ZM685.6 832.6L716.6 814.1L716.6 851.1ZM688.5 832.2L719.5 813.7L719.5 850.7ZM691.4 831.9L722.4 813.4L722.4 850.4ZM694.3 831.4L725.3 812.9L725.3 849.9ZM697.2 831.0L728.2 812.5L728.2 849.5ZM700.1 830.6L731.1 812.1L731.1 849.1ZM703.0 830.1L734.0 811.6L734.0 848.6ZM705.9 829.7L736.9 811.2L736.9 848.2ZM708.8 829.3L739.8 810.8L739.8 847.8ZM711.7 828.8L742.7 810.3L742.7 847.3ZM714.6 828.4L745.6 809.9L745.6 846.9ZM717.5 828.0L748.5 809.5L748.5 846.5ZM720.4 827.5L751.4 809.0L751.4 846.0ZM723.3 827.2L754.3 808.7L754.3 845.7ZM726.2 826.8L757.2 808.3L757.2 845.3ZM729.1 826.4L760.1 807.9L760.1 844.9ZM732.0 826.1L763.0 807.6L763.0 844.6ZM734.9 825.8L765.9 807.3L765.9 844.3ZM737.8 825.4L768.8 806.9L768.8 843.9ZM740.7 825.1L771.7 806.6L771.7 843.6ZM743.6 824.8L774.6 806.3L774.6 843.3ZM746.5 824.5L777.5 806.0L777.5 843.0ZM749.4 824.2L780.4 805.7L780.4 842.7ZM752.3 823.9L783.3 805.4L783.3 842.4ZM755.2 823.6L786.2 805.1L786.2 842.1ZM758.1 823.2L789.1 804.7L789.1 841.7ZM761.0 822.9L792.0 804.4L792.0 841.4ZM763.9 822.6L794.9 804.1L794.9 841.1ZM766.8 822.3L797.8 803.8L797.8 840.8ZM769.7 822.0L800.7 803.5L800.7 840.5ZM772.6 821.6L803.6 803.1L803.6 840.1ZM775.5 821.3L806.5 802.8L806.5 839.8ZM778.4 820.9L809.4 802.4L809.4 839.4ZM781.3 820.6L812.3 802.1L812.3 839.1ZM784.2 820.2L815.2 801.7L815.2 838.7ZM787.1 819.9L818.1 801.4L818.1 838.4ZM790.0 819.5L821.0 801.0L821.0 838.0ZM792.9 819.2L823.9 800.7L823.9 837.7ZM795.8 818.8L826.8 800.3L826.8 837.3ZM798.7 818.5L829.7 800.0L829.7 837.0ZM801.6 818.1L832.6 799.6L832.6 836.6ZM804.5 817.7L835.5 799.2L835.5 836.2ZM807.4 817.3L838.4 798.8L838.4 835.8ZM810.3 816.9L841.3 798.4L841.3 835.4ZM813.2 816.5L844.2 798.0L844.2 835.0ZM816.1 816.1L847.1 797.6L847.1 834.6ZM819.0 815.6L850.0 797.1L850.0 834.1ZM821.9 815.2L852.9 796.7L852.9 833.7ZM824.8 814.7L855.8 796.2L855.8 833.2ZM827.7 814.2L858.7 795.7L858.7 832.7ZM830.6 813.6L861.6 795.1L861.6 832.1ZM833.5 813.0L864.5 794.5L864.5 831.5ZM836.4 812.3L867.4 793.8L867.4 830.8ZM839.3 811.7L870.3 793.2L870.3 830.2ZM842.2 811.0L873.2 792.5L873.2 829.5ZM845.1 810.4L876.1 791.9L876.1 828.9ZM848.0 809.7L879.0 791.2L879.0 828.2ZM850.9 809.1L881.9 790.6L881.9 827.6ZM853.8 808.6L884.8 790.1L884.8 827.1ZM856.7 808.1L887.7 789.6L887.7 826.6ZM859.6 807.6L890.6 789.1L890.6 826.1ZM862.5 807.2L893.5 788.7L893.5 825.7ZM865.4 806.7L896.4 788.2L896.4 825.2ZM868.3 806.3L899.3 787.8L899.3 824.8ZM871.2 805.8L902.2 787.3L902.2 824.3ZM874.1 805.4L905.1 786.9L905.1 823.9ZM877.0 805.0L908.0 786.5L908.0 823.5ZM879.9 804.6L910.9 786.1L910.9 823.1ZM882.8 804.3L913.8 785.8L913.8 822.8ZM885.7 803.9L916.7 785.4L916.7 822.4ZM888.6 803.6L919.6 785.1L919.6 822.1ZM891.5 803.2L922.5 784.7L922.5 821.7ZM894.4 802.9L925.4 784.4L925.4 821.4ZM897.3 802.6L928.3 784.1L928.3 821.1ZM900.2 802.3L931.2 783.8L931.2 820.8ZM903.1 802.0L934.1 783.5L934.1 820.5ZM906.0 801.7L937.0 783.2L937.0 820.2ZM908.9 801.5L939.9 783.0L939.9 820.0ZM911.8 801.2L942.8 782.7L942.8 819.7ZM914.7 801.0L945.7 782.5L945.7 819.5ZM917.6 800.7L948.6 782.2L948.6 819.2ZM920.5 800.5L951.5 782.0L951.5 819.0ZM923.4 800.2L954.4 781.7L954.4 818.7ZM926.3 800.0L957.3 781.5L957.3 818.5ZM929.2 799.8L960.2 781.3L960.2 818.3ZM932.1 799.6L963.1 781.1L963.1 818.1ZM935.0 799.3L966.0 780.8L966.0 817.8ZM937.9 799.1L968.9 780.6L968.9 817.6ZM940.8 798.9L971.8 780.4L971.8 817.4ZM943.7 798.7L974.7 780.2L974.7 817.2ZM946.6 798.4L977.6 779.9L977.6 816.9ZM949.5 798.2L980.5 779.7L980.5 816.7ZM952.4 798.0L983.4 779.5L983.4 816.5ZM955.3 797.7L986.3 779.2L986.3 816.2ZM958.2 797.5L989.2 779.0L989.2 816.0ZM961.1 797.2L992.1 778.7L992.1 815.7ZM964.0 797.0L995.0 778.5L995.0 815.5ZM966.9 796.7L997.9 778.2L997.9 815.2ZM969.8 796.5L1000.8 778.0L1000.8 815.0ZM972.7 796.2L1003.7 777.7L1003.7 814.7ZM975.6 795.9L1006.6 777.4L1006.6 814.4ZM978.5 795.6L1009.5 777.1L1009.5 814.1ZM981.4 795.3L1012.4 776.8L1012.4 813.8ZM984.3 795.0L1015.3 776.5L1015.3 813.5ZM987.2 794.7L1018.2 776.2L1018.2 813.2ZM990.1 794.4L1021.1 775.9L1021.1 812.9ZM993.0 794.1L1024.0 775.6L1024.0 812.6ZM995.9 793.8L1026.9 775.3L1026.9 812.3ZM998.8 793.5L1029.8 775.0L1029.8 812.0ZM1001.7 793.2L1032.7 774.7L1032.7 811.7ZM1004.6 792.9L1035.6 774.4L1035.6 811.4ZM1007.5 792.6L1038.5 774.1L1038.5 811.1ZM1010.4 792.3L1041.4 773.8L1041.4 810.8ZM1013.3 791.9L1044.3 773.4L1044.3 810.4ZM1016.2 791.6L1047.2 773.1L1047.2 810.1ZM1019.1 791.3L1050.1 772.8L1050.1 809.8ZM1022.0 791.0L1053.0 772.5L1053.0 809.5ZM1024.9 790.6L1055.9 772.1L1055.9 809.1ZM1027.8 790.3L1058.8 771.8L1058.8 808.8ZM1030.7 790.0L1061.7 771.5L1061.7 808.5ZM1033.6 789.6L1064.6 771.1L1064.6 808.1ZM1036.5 789.3L1067.5 770.8L1067.5 807.8ZM1039.4 789.0L1070.4 770.5L1070.4 807.5ZM1042.3 788.6L1073.3 770.1L1073.3 807.1ZM1043.3 788.5L1074.3 770.0L1074.3 807.0ZM1044.3 788.4L1075.3 769.9L1075.3 806.9ZM1048.5 828.0L1079.5 809.5L1079.5 846.5ZM1054.3 836.7L1085.3 818.2L1085.3 855.2ZM1060.1 845.4L1091.1 826.9L1091.1 863.9ZM1065.9 853.9L1096.9 835.4L1096.9 872.4ZM1071.7 861.1L1102.7 842.6L1102.7 879.6ZM1074.6 864.2L1105.6 845.7L1105.6 882.7ZM1077.5 866.9L1108.5 848.4L1108.5 885.4ZM1080.4 869.3L1111.4 850.8L1111.4 887.8ZM1083.3 871.5L1114.3 853.0L1114.3 890.0ZM1086.2 873.4L1117.2 854.9L1117.2 891.9ZM1089.1 875.1L1120.1 856.6L1120.1 893.6ZM1092.0 876.5L1123.0 858.0L1123.0 895.0ZM1094.9 877.9L1125.9 859.4L1125.9 896.4ZM1097.8 879.1L1128.8 860.6L1128.8 897.6ZM1100.7 880.3L1131.7 861.8L1131.7 898.8ZM1103.6 881.3L1134.6 862.8L1134.6 899.8ZM1106.5 882.4L1137.5 863.9L1137.5 900.9ZM1109.4 883.4L1140.4 864.9L1140.4 901.9ZM1112.3 884.3L1143.3 865.8L1143.3 902.8ZM1115.2 885.3L1146.2 866.8L1146.2 903.8ZM1118.1 886.2L1149.1 867.7L1149.1 904.7ZM1121.0 887.2L1152.0 868.7L1152.0 905.7ZM1123.9 888.0L1154.9 869.5L1154.9 906.5ZM1126.8 888.9L1157.8 870.4L1157.8 907.4ZM1129.7 889.7L1160.7 871.2L1160.7 908.2ZM1132.6 890.4L1163.6 871.9L1163.6 908.9ZM1135.5 891.1L1166.5 872.6L1166.5 909.6ZM1138.4 891.8L1169.4 873.3L1169.4 910.3ZM1141.3 892.4L1172.3 873.9L1172.3 910.9ZM1144.2 892.9L1175.2 874.4L1175.2 911.4ZM1147.1 893.5L1178.1 875.0L1178.1 912.0ZM1150.0 894.0L1181.0 875.5L1181.0 912.5ZM1152.9 894.5L1183.9 876.0L1183.9 913.0ZM1155.8 895.0L1186.8 876.5L1186.8 913.5ZM1158.7 895.4L1189.7 876.9L1189.7 913.9ZM1161.6 895.9L1192.6 877.4L1192.6 914.4ZM1164.5 896.3L1195.5 877.8L1195.5 914.8ZM1167.4 896.7L1198.4 878.2L1198.4 915.2ZM1170.3 897.1L1201.3 878.6L1201.3 915.6ZM1173.2 897.5L1204.2 879.0L1204.2 916.0ZM1176.1 897.8L1207.1 879.3L1207.1 916.3ZM1179.0 898.2L1210.0 879.7L1210.0 916.7ZM1181.9 898.6L1212.9 880.1L1212.9 917.1ZM1184.8 899.0L1215.8 880.5L1215.8 917.5ZM1187.7 899.4L1218.7 880.9L1218.7 917.9ZM1190.6 899.8L1221.6 881.3L1221.6 918.3ZM1193.5 900.1L1224.5 881.6L1224.5 918.6ZM1196.4 900.5L1227.4 882.0L1227.4 919.0ZM1199.3 900.8L1230.3 882.3L1230.3 919.3ZM1202.2 901.1L1233.2 882.6L1233.2 919.6ZM1205.1 901.4L1236.1 882.9L1236.1 919.9ZM1208.0 901.7L1239.0 883.2L1239.0 920.2ZM1210.9 901.9L1241.9 883.4L1241.9 920.4ZM1213.8 902.1L1244.8 883.6L1244.8 920.6ZM1216.7 902.3L1247.7 883.8L1247.7 920.8ZM1219.6 902.4L1250.6 883.9L1250.6 920.9ZM1222.5 902.4L1253.5 883.9L1253.5 920.9ZM1225.4 902.5L1256.4 884.0L1256.4 921.0ZM1228.3 902.5L1259.3 884.0L1259.3 921.0ZM1231.2 902.5L1262.2 884.0L1262.2 921.0ZM1234.1 902.6L1265.1 884.1L1265.1 921.1ZM1237.0 902.6L1268.0 884.1L1268.0 921.1ZM1239.9 902.7L1270.9 884.2L1270.9 921.2ZM1242.8 902.7L1273.8 884.2L1273.8 921.2ZM1245.7 902.7L1276.7 884.2L1276.7 921.2ZM1248.6 902.8L1279.6 884.3L1279.6 921.3ZM1251.5 902.8L1282.5 884.3L1282.5 921.3ZM1254.4 902.8L1285.4 884.3L1285.4 921.3ZM1257.3 902.8L1288.3 884.3L1288.3 921.3ZM1260.2 902.9L1291.2 884.4L1291.2 921.4ZM1263.1 902.9L1294.1 884.4L1294.1 921.4ZM1266.0 902.9L1297.0 884.4L1297.0 921.4ZM1268.9 902.9L1299.9 884.4L1299.9 921.4ZM1271.8 902.9L1302.8 884.4L1302.8 921.4ZM1274.7 903.0L1305.7 884.5L1305.7 921.5ZM1277.6 903.0L1308.6 884.5L1308.6 921.5ZM1280.5 903.0L1311.5 884.5L1311.5 921.5ZM1283.4 903.0L1314.4 884.5L1314.4 921.5ZM1286.3 903.0L1317.3 884.5L1317.3 921.5ZM1289.2 903.0L1320.2 884.5L1320.2 921.5ZM1292.1 903.0L1323.1 884.5L1323.1 921.5ZM1295.0 903.0L1326.0 884.5L1326.0 921.5ZM1297.9 903.0L1328.9 884.5L1328.9 921.5ZM1300.8 903.0L1331.8 884.5L1331.8 921.5ZM1303.7 903.0L1334.7 884.5L1334.7 921.5ZM1306.6 902.9L1337.6 884.4L1337.6 921.4ZM1309.5 902.9L1340.5 884.4L1340.5 921.4ZM1312.4 902.9L1343.4 884.4L1343.4 921.4ZM1315.3 902.8L1346.3 884.3L1346.3 921.3ZM1318.2 902.8L1349.2 884.3L1349.2 921.3ZM1321.1 902.7L1352.1 884.2L1352.1 921.2ZM1324.0 902.7L1355.0 884.2L1355.0 921.2ZM1326.9 902.6L1357.9 884.1L1357.9 921.1ZM1329.8 902.5L1360.8 884.0L1360.8 921.0ZM1332.7 902.5L1363.7 884.0L1363.7 921.0ZM1335.6 902.4L1366.6 883.9L1366.6 920.9ZM1338.5 902.3L1369.5 883.8L1369.5 920.8ZM1341.4 902.3L1372.4 883.8L1372.4 920.8ZM1344.3 902.2L1375.3 883.7L1375.3 920.7ZM1347.2 902.1L1378.2 883.6L1378.2 920.6ZM1350.1 902.1L1381.1 883.6L1381.1 920.6ZM1353.0 902.0L1384.0 883.5L1384.0 920.5ZM1355.9 901.9L1386.9 883.4L1386.9 920.4ZM1358.8 901.9L1389.8 883.4L1389.8 920.4ZM1361.7 901.8L1392.7 883.3L1392.7 920.3ZM1364.6 901.8L1395.6 883.3L1395.6 920.3ZM1367.5 901.7L1398.5 883.2L1398.5 920.2ZM1370.4 901.7L1401.4 883.2L1401.4 920.2ZM1373.3 901.6L1404.3 883.1L1404.3 920.1ZM1376.2 901.6L1407.2 883.1L1407.2 920.1ZM1379.1 901.6L1410.1 883.1L1410.1 920.1ZM1382.0 901.5L1413.0 883.0L1413.0 920.0ZM1384.9 901.5L1415.9 883.0L1415.9 920.0ZM1387.8 901.5L1418.8 883.0L1418.8 920.0ZM1390.7 901.5L1421.7 883.0L1421.7 920.0ZM1393.6 901.5L1424.6 883.0L1424.6 920.0ZM1396.5 901.5L1427.5 883.0L1427.5 920.0ZM1399.4 901.5L1430.4 883.0L1430.4 920.0ZM1402.3 901.5L1433.3 883.0L1433.3 920.0ZM1405.2 901.5L1436.2 883.0L1436.2 920.0ZM1408.1 901.5L1439.1 883.0L1439.1 920.0ZM1411.0 901.6L1442.0 883.1L1442.0 920.1ZM1413.9 901.6L1444.9 883.1L1444.9 920.1ZM1416.8 901.6L1447.8 883.1L1447.8 920.1ZM1419.7 901.6L1450.7 883.1L1450.7 920.1ZM1422.6 901.6L1453.6 883.1L1453.6 920.1ZM1425.5 901.7L1456.5 883.2L1456.5 920.2ZM1428.4 901.7L1459.4 883.2L1459.4 920.2ZM1431.3 901.7L1462.3 883.2L1462.3 920.2ZM1434.2 901.7L1465.2 883.2L1465.2 920.2ZM1437.1 901.7L1468.1 883.2L1468.1 920.2ZM1440.0 901.8L1471.0 883.3L1471.0 920.3ZM1442.9 901.8L1473.9 883.3L1473.9 920.3ZM1445.8 901.8L1476.8 883.3L1476.8 920.3ZM1448.7 901.8L1479.7 883.3L1479.7 920.3ZM1451.6 901.9L1482.6 883.4L1482.6 920.4ZM1454.5 901.9L1485.5 883.4L1485.5 920.4ZM1457.4 901.9L1488.4 883.4L1488.4 920.4ZM1460.3 901.9L1491.3 883.4L1491.3 920.4ZM1463.2 901.9L1494.2 883.4L1494.2 920.4ZM1466.1 902.0L1497.1 883.5L1497.1 920.5ZM1469.0 902.0L1500.0 883.5L1500.0 920.5ZM1471.9 902.0L1502.9 883.5L1502.9 920.5ZM1474.8 902.0L1505.8 883.5L1505.8 920.5ZM1477.7 902.0L1508.7 883.5L1508.7 920.5ZM1480.6 902.0L1511.6 883.5L1511.6 920.5ZM1483.5 902.0L1514.5 883.5L1514.5 920.5ZM1486.4 902.0L1517.4 883.5L1517.4 920.5ZM1489.3 902.0L1520.3 883.5L1520.3 920.5ZM1492.2 902.0L1523.2 883.5L1523.2 920.5ZM1495.1 902.0L1526.1 883.5L1526.1 920.5ZM1498.0 902.0L1529.0 883.5L1529.0 920.5ZM1500.9 902.0L1531.9 883.5L1531.9 920.5ZM1503.8 902.0L1534.8 883.5L1534.8 920.5ZM1506.7 902.0L1537.7 883.5L1537.7 920.5ZM1509.6 902.0L1540.6 883.5L1540.6 920.5ZM1512.5 902.0L1543.5 883.5L1543.5 920.5ZM1515.4 902.0L1546.4 883.5L1546.4 920.5ZM1518.3 902.0L1549.3 883.5L1549.3 920.5ZM1521.2 902.0L1552.2 883.5L1552.2 920.5ZM1524.1 902.0L1555.1 883.5L1555.1 920.5ZM1527.0 902.0L1558.0 883.5L1558.0 920.5ZM1529.9 902.0L1560.9 883.5L1560.9 920.5ZM1532.8 902.0L1563.8 883.5L1563.8 920.5ZM1535.7 902.0L1566.7 883.5L1566.7 920.5ZM1538.6 902.0L1569.6 883.5L1569.6 920.5ZM1541.5 902.0L1572.5 883.5L1572.5 920.5ZM1544.4 902.0L1575.4 883.5L1575.4 920.5ZM1547.3 902.0L1578.3 883.5L1578.3 920.5ZM1550.2 902.0L1581.2 883.5L1581.2 920.5ZM1553.1 902.0L1584.1 883.5L1584.1 920.5ZM1556.0 902.0L1587.0 883.5L1587.0 920.5ZM1558.9 902.0L1589.9 883.5L1589.9 920.5ZM1561.8 902.0L1592.8 883.5L1592.8 920.5ZM1564.7 902.0L1595.7 883.5L1595.7 920.5ZM1567.6 902.0L1598.6 883.5L1598.6 920.5ZM1570.5 902.0L1601.5 883.5L1601.5 920.5ZM1573.4 902.0L1604.4 883.5L1604.4 920.5ZM1576.3 902.0L1607.3 883.5L1607.3 920.5ZM1579.2 902.0L1610.2 883.5L1610.2 920.5ZM1582.1 902.0L1613.1 883.5L1613.1 920.5ZM1585.0 902.0L1616.0 883.5L1616.0 920.5ZM1587.9 901.9L1618.9 883.4L1618.9 920.4ZM1590.8 901.8L1621.8 883.3L1621.8 920.3ZM1593.7 901.5L1624.7 883.0L1624.7 920.0ZM1596.6 901.2L1627.6 882.7L1627.6 919.7ZM1599.5 900.8L1630.5 882.3L1630.5 919.3ZM1602.4 900.4L1633.4 881.9L1633.4 918.9ZM1605.3 899.8L1636.3 881.3L1636.3 918.3ZM1608.2 898.0L1639.2 879.5L1639.2 916.5ZM1611.1 895.7L1642.1 877.2L1642.1 914.2ZM1614.0 894.3L1645.0 875.8L1645.0 912.8ZM1616.9 894.3L1647.9 875.8L1647.9 912.8ZM1619.8 894.4L1650.8 875.9L1650.8 912.9ZM1622.7 894.5L1653.7 876.0L1653.7 913.0ZM1625.6 894.6L1656.6 876.1L1656.6 913.1ZM1628.5 894.7L1659.5 876.2L1659.5 913.2ZM1631.4 894.8L1662.4 876.3L1662.4 913.3ZM1634.3 895.0L1665.3 876.5L1665.3 913.5ZM1637.2 895.2L1668.2 876.7L1668.2 913.7ZM1640.1 895.5L1671.1 877.0L1671.1 914.0ZM1643.0 895.9L1674.0 877.4L1674.0 914.4ZM1645.9 896.3L1676.9 877.8L1676.9 914.8ZM1648.8 896.8L1679.8 878.3L1679.8 915.3ZM1651.7 897.3L1682.7 878.8L1682.7 915.8ZM1654.6 897.8L1685.6 879.3L1685.6 916.3ZM1657.5 898.2L1688.5 879.7L1688.5 916.7ZM1660.4 898.6L1691.4 880.1L1691.4 917.1ZM1663.3 898.9L1694.3 880.4L1694.3 917.4ZM1666.2 899.1L1697.2 880.6L1697.2 917.6ZM1669.1 899.3L1700.1 880.8L1700.1 917.8ZM1672.0 899.5L1703.0 881.0L1703.0 918.0ZM1674.9 899.8L1705.9 881.3L1705.9 918.3ZM1677.8 900.0L1708.8 881.5L1708.8 918.5ZM1680.7 900.2L1711.7 881.7L1711.7 918.7ZM1683.6 900.4L1714.6 881.9L1714.6 918.9ZM1686.5 900.5L1717.5 882.0L1717.5 919.0ZM1689.4 900.7L1720.4 882.2L1720.4 919.2ZM1692.3 900.9L1723.3 882.4L1723.3 919.4ZM1695.2 901.1L1726.2 882.6L1726.2 919.6ZM1698.1 901.2L1729.1 882.7L1729.1 919.7ZM1701.0 901.4L1732.0 882.9L1732.0 919.9ZM1703.9 901.6L1734.9 883.1L1734.9 920.1ZM1706.8 901.7L1737.8 883.2L1737.8 920.2ZM1709.7 901.8L1740.7 883.3L1740.7 920.3ZM1712.6 902.0L1743.6 883.5L1743.6 920.5ZM1715.5 902.1L1746.5 883.6L1746.5 920.6ZM1718.4 902.2L1749.4 883.7L1749.4 920.7ZM1721.3 902.3L1752.3 883.8L1752.3 920.8ZM1724.2 902.4L1755.2 883.9L1755.2 920.9ZM1727.1 902.5L1758.1 884.0L1758.1 921.0ZM1730.0 902.5L1761.0 884.0L1761.0 921.0ZM1732.9 902.6L1763.9 884.1L1763.9 921.1ZM1735.8 902.6L1766.8 884.1L1766.8 921.1ZM1738.7 902.7L1769.7 884.2L1769.7 921.2ZM1741.6 902.7L1772.6 884.2L1772.6 921.2ZM1744.5 902.7L1775.5 884.2L1775.5 921.2ZM1747.4 902.7L1778.4 884.2L1778.4 921.2ZM1750.3 902.7L1781.3 884.2L1781.3 921.2ZM1753.2 902.7L1784.2 884.2L1784.2 921.2ZM1756.1 902.7L1787.1 884.2L1787.1 921.2ZM1759.0 902.7L1790.0 884.2L1790.0 921.2ZM1761.9 902.7L1792.9 884.2L1792.9 921.2ZM1764.8 902.7L1795.8 884.2L1795.8 921.2ZM1767.7 902.7L1798.7 884.2L1798.7 921.2ZM1770.6 902.7L1801.6 884.2L1801.6 921.2ZM1773.5 902.7L1804.5 884.2L1804.5 921.2ZM1776.4 902.6L1807.4 884.1L1807.4 921.1ZM1779.3 902.6L1810.3 884.1L1810.3 921.1ZM1782.2 902.6L1813.2 884.1L1813.2 921.1ZM1785.1 902.6L1816.1 884.1L1816.1 921.1ZM1788.0 902.6L1819.0 884.1L1819.0 921.1ZM1790.9 902.6L1821.9 884.1L1821.9 921.1ZM1793.8 902.6L1824.8 884.1L1824.8 921.1ZM1796.7 902.5L1827.7 884.0L1827.7 921.0ZM1799.6 902.5L1830.6 884.0L1830.6 921.0ZM1802.5 902.5L1833.5 884.0L1833.5 921.0ZM1805.4 902.4L1836.4 883.9L1836.4 920.9ZM1808.3 902.4L1839.3 883.9L1839.3 920.9ZM1811.2 902.4L1842.2 883.9L1842.2 920.9ZM1814.1 902.3L1845.1 883.8L1845.1 920.8ZM1817.0 902.3L1848.0 883.8L1848.0 920.8ZM1819.9 902.3L1850.9 883.8L1850.9 920.8ZM1822.8 902.2L1853.8 883.7L1853.8 920.7ZM1825.7 902.2L1856.7 883.7L1856.7 920.7ZM1828.6 902.1L1859.6 883.6L1859.6 920.6ZM1831.5 902.1L1862.5 883.6L1862.5 920.6ZM1834.4 902.0L1865.4 883.5L1865.4 920.5ZM1837.3 901.9L1868.3 883.4L1868.3 920.4ZM1840.2 901.9L1871.2 883.4L1871.2 920.4ZM1843.1 901.8L1874.1 883.3L1874.1 920.3ZM1846.0 901.7L1877.0 883.2L1877.0 920.2ZM1848.9 901.7L1879.9 883.2L1879.9 920.2ZM1851.8 901.6L1882.8 883.1L1882.8 920.1ZM1854.7 901.5L1885.7 883.0L1885.7 920.0ZM1857.6 900.6L1888.6 882.1L1888.6 919.1ZM1860.5 899.0L1891.5 880.5L1891.5 917.5ZM1861.0 898.7L1892.0 880.2L1892.0 917.2ZM1861.5 898.5L1892.5 880.0L1892.5 917.0Z" fill="#B3508F"/>
<path d="M306.0 1505.0L311.8 1495.6L317.6 1484.9L323.4 1472.9L329.2 1463.7L335.0 1456.0L340.8 1446.6L346.6 1434.0L352.4 1419.5L358.2 1404.1L364.0 1389.1L369.8 1373.3L375.6 1353.7L381.4 1327.0L387.2 1291.0L393.0 1249.8L398.8 1226.0L404.6 1195.9L410.4 1153.4L416.2 1108.6L422.0 1068.8L427.8 1020.8L433.6 991.5L439.4 959.1L445.2 920.5L451.0 896.5L456.8 869.9L462.6 845.6L468.4 830.3L474.2 823.1L477.1 821.0L480.0 819.4L482.9 818.3L485.8 818.0L488.7 817.8L491.6 817.6L494.5 817.5L497.4 817.4L500.3 817.3L503.2 817.2L506.1 817.1L509.0 817.1L511.9 817.0L514.8 817.0L517.7 817.0L520.6 817.0L523.5 817.1L526.4 817.3L529.3 817.5L532.2 817.8L535.1 818.2L538.0 818.5L540.9 818.9L543.8 819.1L546.7 819.4L549.6 819.5L552.5 819.5L555.4 819.6L558.3 819.6L561.2 819.7L564.1 819.7L567.0 819.8L569.9 819.8L572.8 819.8L575.7 819.9L578.6 819.9L581.5 819.9L584.4 819.9L587.3 820.0L590.2 820.0L593.1 820.0L596.0 820.0L598.9 820.0L601.8 820.0L604.7 820.0L607.6 819.9L610.5 819.8L613.4 819.7L616.3 819.5L619.2 819.4L622.1 819.2L625.0 819.0L627.9 818.8L630.8 818.6L633.7 818.4L636.6 818.1L639.5 817.9L642.4 817.7L645.3 817.5L648.2 817.3L651.1 817.1L654.0 816.9L656.9 816.7L659.8 816.5L662.7 816.4L665.6 816.2L668.5 816.1L671.4 815.9L674.3 815.8L677.2 815.6L680.1 815.5L683.0 815.3L685.9 815.2L688.8 815.1L691.7 814.9L694.6 814.8L697.5 814.7L700.4 814.5L703.3 814.4L706.2 814.3L709.1 814.1L712.0 814.0L714.9 813.8L717.8 813.7L720.7 813.6L723.6 813.4L726.5 813.3L729.4 813.1L732.3 813.0L735.2 812.8L738.1 812.7L741.0 812.5L743.9 812.4L746.8 812.2L749.7 812.1L752.6 811.9L755.5 811.7L758.4 811.6L761.3 811.4L764.2 811.2L767.1 811.0L770.0 810.8L772.9 810.7L775.8 810.5L778.7 810.3L781.6 810.1L784.5 809.9L787.4 809.7L790.3 809.5L793.2 809.4L796.1 809.2L799.0 809.0L801.9 808.8L804.8 808.6L807.7 808.4L810.6 808.2L813.5 808.0L816.4 807.9L819.3 807.7L822.2 807.5L825.1 807.3L828.0 807.1L830.9 807.0L833.8 806.8L836.7 806.6L839.6 806.5L842.5 806.3L845.4 806.2L848.3 806.0L851.2 805.9L854.1 805.7L857.0 805.6L859.9 805.5L862.8 805.3L865.7 805.2L868.6 805.1L871.5 805.0L874.4 804.9L877.3 804.8L880.2 804.7L883.1 804.6L886.0 804.5L888.9 804.4L891.8 804.3L894.7 804.2L897.6 804.1L900.5 804.1L903.4 804.0L906.3 804.0L909.2 803.9L912.1 803.8L915.0 803.8L917.9 803.7L920.8 803.7L923.7 803.6L926.6 803.5L929.5 803.5L932.4 803.4L935.3 803.4L938.2 803.3L941.1 803.3L944.0 803.2L946.9 803.2L949.8 803.1L952.7 803.1L955.6 803.0L958.5 803.0L961.4 802.9L964.3 802.9L967.2 802.8L970.1 802.8L973.0 802.7L975.9 802.7L978.8 802.7L981.7 802.6L984.6 802.6L987.5 802.6L990.4 802.5L993.3 802.5L996.2 802.5L999.1 802.5L1002.0 802.5L1004.9 802.4L1007.8 802.4L1010.7 802.4L1013.6 802.4L1016.5 802.4L1019.4 802.4L1022.3 802.4L1025.2 802.5L1028.1 802.5L1031.0 802.6L1033.9 802.7L1036.8 802.8L1039.7 802.9L1042.6 803.0" fill="none" stroke="#6EB33C" stroke-width="4.5" stroke-linejoin="round"/>
<path d="M1048.0 1093.6L1050.9 1094.7L1053.8 1095.7L1056.7 1096.8L1059.6 1097.8L1062.5 1098.8L1065.4 1099.8L1068.3 1100.7L1071.2 1101.7L1074.1 1102.6L1077.0 1103.5L1079.9 1104.3L1082.8 1105.1L1085.7 1105.9L1088.6 1106.6L1091.5 1107.3L1094.4 1107.9L1097.3 1108.6L1100.2 1109.2L1103.1 1109.7L1106.0 1110.3L1108.9 1110.8L1111.8 1111.4L1114.7 1111.9L1117.6 1112.4L1120.5 1112.9L1123.4 1113.3L1126.3 1113.8L1129.2 1114.3L1132.1 1114.7L1135.0 1115.1L1137.9 1115.6L1140.8 1116.0L1143.7 1116.4L1146.6 1116.9L1149.5 1117.3L1152.4 1117.7L1155.3 1118.1L1158.2 1118.5L1161.1 1119.0L1164.0 1119.4L1166.9 1119.8L1169.8 1120.3L1172.7 1120.7L1175.6 1121.2L1178.5 1121.6L1181.4 1122.1L1184.3 1122.6L1187.2 1123.0L1190.1 1123.5L1193.0 1124.0L1195.9 1124.4L1198.8 1124.9L1201.7 1125.3L1204.6 1125.7L1207.5 1126.2L1210.4 1126.6L1213.3 1126.9L1216.2 1127.3L1219.1 1127.6L1222.0 1128.0L1224.9 1128.3L1227.8 1128.5L1230.7 1128.8L1233.6 1129.0L1236.5 1129.2L1239.4 1129.3L1242.3 1129.5L1245.2 1129.6L1248.1 1129.8L1251.0 1129.9L1253.9 1130.0L1256.8 1130.2L1259.7 1130.3L1262.6 1130.4L1265.5 1130.6L1268.4 1130.7L1271.3 1130.8L1274.2 1130.9L1277.1 1131.0L1280.0 1131.1L1282.9 1131.2L1285.8 1131.3L1288.7 1131.3L1291.6 1131.4L1294.5 1131.5L1297.4 1131.5L1300.3 1131.5L1303.2 1131.6L1306.1 1131.6L1309.0 1131.6L1311.9 1131.6L1314.8 1131.6L1317.7 1131.6L1320.6 1131.6L1323.5 1131.6L1326.4 1131.6L1329.3 1131.6L1332.2 1131.6L1335.1 1131.6L1338.0 1131.6L1340.9 1131.6L1343.8 1131.6L1346.7 1131.6L1349.6 1131.6L1352.5 1131.6L1355.4 1131.6L1358.3 1131.6L1361.2 1131.6L1364.1 1131.5L1367.0 1131.5L1369.9 1131.4L1372.8 1131.3L1375.7 1131.2L1378.6 1131.0L1381.5 1130.9L1384.4 1130.7L1387.3 1130.5L1390.2 1130.3L1393.1 1130.1L1396.0 1129.9L1398.9 1129.7L1401.8 1129.5L1404.7 1129.3L1407.6 1129.1L1410.5 1128.9L1413.4 1128.7L1416.3 1128.5L1419.2 1128.2L1422.1 1128.1L1425.0 1127.9L1427.9 1127.7L1430.8 1127.5L1433.7 1127.4L1436.6 1127.2L1439.5 1127.1L1442.4 1127.0L1445.3 1126.9L1448.2 1126.9L1451.1 1126.8L1454.0 1126.8L1456.9 1126.8L1459.8 1126.8L1462.7 1126.9L1465.6 1127.0L1468.5 1127.0L1471.4 1127.1L1474.3 1127.2L1477.2 1127.3L1480.1 1127.4L1483.0 1127.5L1485.9 1127.6L1488.8 1127.6L1491.7 1127.7L1494.6 1127.8L1497.5 1127.8L1500.4 1127.8L1503.3 1127.8L1506.2 1127.8L1509.1 1127.8L1512.0 1127.8L1514.9 1127.7L1517.8 1127.7L1520.7 1127.7L1523.6 1127.7L1526.5 1127.6L1529.4 1127.6L1532.3 1127.5L1535.2 1127.5L1538.1 1127.4L1541.0 1127.4L1543.9 1127.3L1546.8 1127.3L1549.7 1127.2L1552.6 1127.2L1555.5 1127.1L1558.4 1127.0L1561.3 1127.0L1564.2 1126.9L1567.1 1126.8L1570.0 1126.8L1572.9 1126.7L1575.8 1126.6L1578.7 1126.5L1581.6 1126.5L1584.5 1126.4L1587.4 1126.3L1590.3 1126.2L1593.2 1126.1L1596.1 1126.1L1599.0 1126.0L1601.9 1125.9L1604.8 1125.8L1607.7 1125.7L1610.6 1125.7L1613.5 1125.6L1616.4 1125.5L1619.3 1125.4L1622.2 1125.3L1625.1 1125.3L1628.0 1125.2L1630.9 1125.1L1633.8 1124.9L1636.7 1124.8L1639.6 1124.7L1642.5 1124.6L1645.4 1124.5L1648.3 1124.3L1651.2 1124.2L1654.1 1124.1L1657.0 1123.9L1659.9 1123.8L1662.8 1123.6L1665.7 1123.5L1668.6 1123.3L1671.5 1123.2L1674.4 1123.0L1677.3 1122.9L1680.2 1122.7L1683.1 1122.6L1686.0 1122.4L1688.9 1122.3L1691.8 1122.2L1694.7 1122.0L1697.6 1121.9L1700.5 1121.7L1703.4 1121.6L1706.3 1121.5L1709.2 1121.4L1712.1 1121.3L1715.0 1121.1L1717.9 1121.0L1720.8 1120.9L1723.7 1120.9L1726.6 1120.8L1729.5 1120.7L1732.4 1120.6L1735.3 1120.6L1738.2 1120.5L1741.1 1120.5L1744.0 1120.4L1746.9 1120.4L1749.8 1120.4L1752.7 1120.3L1755.6 1120.3L1758.5 1120.3L1761.4 1120.2L1764.3 1120.2L1767.2 1120.2L1770.1 1120.1L1773.0 1120.1L1775.9 1120.1L1778.8 1120.0L1781.7 1120.0L1784.6 1120.0L1787.5 1119.9L1790.4 1119.9L1793.3 1119.9L1796.2 1119.8L1799.1 1119.8L1802.0 1119.8L1804.9 1119.8L1807.8 1119.7L1810.7 1119.7L1813.6 1119.7L1816.5 1119.7L1819.4 1119.6L1822.3 1119.6L1825.2 1119.6L1828.1 1119.6L1831.0 1119.6L1833.9 1119.5L1836.8 1119.5L1839.7 1119.5L1842.6 1119.5L1845.5 1119.5L1848.4 1119.4L1851.3 1119.4L1854.2 1119.4L1857.1 1119.4L1860.0 1119.4L1862.9 1119.4L1865.8 1119.4L1868.7 1119.4L1871.6 1119.3L1874.5 1119.3L1877.4 1119.3L1880.3 1119.3L1883.2 1119.3L1886.1 1119.3L1889.0 1119.3L1891.9 1119.3L1894.8 1119.3L1897.7 1119.3L1900.6 1119.3L1903.5 1119.3L1906.4 1119.4L1909.3 1119.4L1912.2 1119.5L1915.1 1119.6L1918.0 1119.7L1920.9 1119.8L1923.8 1119.9L1925.9 1119.9L1928.0 1120.0" fill="none" stroke="#6EB33C" stroke-width="4.5" stroke-linejoin="round"/>
<path d="M321.5 1505.0L290.5 1523.5L290.5 1486.5ZM327.3 1495.6L296.3 1514.1L296.3 1477.1ZM333.1 1484.9L302.1 1503.4L302.1 1466.4ZM338.9 1472.9L307.9 1491.4L307.9 1454.4ZM344.7 1463.7L313.7 1482.2L313.7 1445.2ZM350.5 1456.0L319.5 1474.5L319.5 1437.5ZM356.3 1446.6L325.3 1465.1L325.3 1428.1ZM362.1 1434.0L331.1 1452.5L331.1 1415.5ZM367.9 1419.5L336.9 1438.0L336.9 1401.0ZM373.7 1404.1L342.7 1422.6L342.7 1385.6ZM379.5 1389.1L348.5 1407.6L348.5 1370.6ZM385.3 1373.3L354.3 1391.8L354.3 1354.8ZM391.1 1353.7L360.1 1372.2L360.1 1335.2ZM396.9 1327.0L365.9 1345.5L365.9 1308.5ZM402.7 1291.0L371.7 1309.5L371.7 1272.5ZM408.5 1249.8L377.5 1268.3L377.5 1231.3ZM414.3 1226.0L383.3 1244.5L383.3 1207.5ZM420.1 1195.9L389.1 1214.4L389.1 1177.4ZM425.9 1153.4L394.9 1171.9L394.9 1134.9ZM431.7 1108.6L400.7 1127.1L400.7 1090.1ZM437.5 1068.8L406.5 1087.3L406.5 1050.3ZM443.3 1020.8L412.3 1039.3L412.3 1002.3ZM449.1 991.5L418.1 1010.0L418.1 973.0ZM454.9 959.1L423.9 977.6L423.9 940.6ZM460.7 920.5L429.7 939.0L429.7 902.0ZM466.5 896.5L435.5 915.0L435.5 878.0ZM472.3 869.9L441.3 888.4L441.3 851.4ZM478.1 845.6L447.1 864.1L447.1 827.1ZM483.9 830.3L452.9 848.8L452.9 811.8ZM489.7 823.1L458.7 841.6L458.7 804.6ZM492.6 821.0L461.6 839.5L461.6 802.5ZM495.5 819.4L464.5 837.9L464.5 800.9ZM498.4 818.3L467.4 836.8L467.4 799.8ZM501.3 818.0L470.3 836.5L470.3 799.5ZM504.2 817.8L473.2 836.3L473.2 799.3ZM507.1 817.6L476.1 836.1L476.1 799.1ZM510.0 817.5L479.0 836.0L479.0 799.0ZM512.9 817.4L481.9 835.9L481.9 798.9ZM515.8 817.3L484.8 835.8L484.8 798.8ZM518.7 817.2L487.7 835.7L487.7 798.7ZM521.6 817.1L490.6 835.6L490.6 798.6ZM524.5 817.1L493.5 835.6L493.5 798.6ZM527.4 817.0L496.4 835.5L496.4 798.5ZM530.3 817.0L499.3 835.5L499.3 798.5ZM533.2 817.0L502.2 835.5L502.2 798.5ZM536.1 817.0L505.1 835.5L505.1 798.5ZM539.0 817.1L508.0 835.6L508.0 798.6ZM541.9 817.3L510.9 835.8L510.9 798.8ZM544.8 817.5L513.8 836.0L513.8 799.0ZM547.7 817.8L516.7 836.3L516.7 799.3ZM550.6 818.2L519.6 836.7L519.6 799.7ZM553.5 818.5L522.5 837.0L522.5 800.0ZM556.4 818.9L525.4 837.4L525.4 800.4ZM559.3 819.1L528.3 837.6L528.3 800.6ZM562.2 819.4L531.2 837.9L531.2 800.9ZM565.1 819.5L534.1 838.0L534.1 801.0ZM568.0 819.5L537.0 838.0L537.0 801.0ZM570.9 819.6L539.9 838.1L539.9 801.1ZM573.8 819.6L542.8 838.1L542.8 801.1ZM576.7 819.7L545.7 838.2L545.7 801.2ZM579.6 819.7L548.6 838.2L548.6 801.2ZM582.5 819.8L551.5 838.3L551.5 801.3ZM585.4 819.8L554.4 838.3L554.4 801.3ZM588.3 819.8L557.3 838.3L557.3 801.3ZM591.2 819.9L560.2 838.4L560.2 801.4ZM594.1 819.9L563.1 838.4L563.1 801.4ZM597.0 819.9L566.0 838.4L566.0 801.4ZM599.9 819.9L568.9 838.4L568.9 801.4ZM602.8 820.0L571.8 838.5L571.8 801.5ZM605.7 820.0L574.7 838.5L574.7 801.5ZM608.6 820.0L577.6 838.5L577.6 801.5ZM611.5 820.0L580.5 838.5L580.5 801.5ZM614.4 820.0L583.4 838.5L583.4 801.5ZM617.3 820.0L586.3 838.5L586.3 801.5ZM620.2 820.0L589.2 838.5L589.2 801.5ZM623.1 819.9L592.1 838.4L592.1 801.4ZM626.0 819.8L595.0 838.3L595.0 801.3ZM628.9 819.7L597.9 838.2L597.9 801.2ZM631.8 819.5L600.8 838.0L600.8 801.0ZM634.7 819.4L603.7 837.9L603.7 800.9ZM637.6 819.2L606.6 837.7L606.6 800.7ZM640.5 819.0L609.5 837.5L609.5 800.5ZM643.4 818.8L612.4 837.3L612.4 800.3ZM646.3 818.6L615.3 837.1L615.3 800.1ZM649.2 818.4L618.2 836.9L618.2 799.9ZM652.1 818.1L621.1 836.6L621.1 799.6ZM655.0 817.9L624.0 836.4L624.0 799.4ZM657.9 817.7L626.9 836.2L626.9 799.2ZM660.8 817.5L629.8 836.0L629.8 799.0ZM663.7 817.3L632.7 835.8L632.7 798.8ZM666.6 817.1L635.6 835.6L635.6 798.6ZM669.5 816.9L638.5 835.4L638.5 798.4ZM672.4 816.7L641.4 835.2L641.4 798.2ZM675.3 816.5L644.3 835.0L644.3 798.0ZM678.2 816.4L647.2 834.9L647.2 797.9ZM681.1 816.2L650.1 834.7L650.1 797.7ZM684.0 816.1L653.0 834.6L653.0 797.6ZM686.9 815.9L655.9 834.4L655.9 797.4ZM689.8 815.8L658.8 834.3L658.8 797.3ZM692.7 815.6L661.7 834.1L661.7 797.1ZM695.6 815.5L664.6 834.0L664.6 797.0ZM698.5 815.3L667.5 833.8L667.5 796.8ZM701.4 815.2L670.4 833.7L670.4 796.7ZM704.3 815.1L673.3 833.6L673.3 796.6ZM707.2 814.9L676.2 833.4L676.2 796.4ZM710.1 814.8L679.1 833.3L679.1 796.3ZM713.0 814.7L682.0 833.2L682.0 796.2ZM715.9 814.5L684.9 833.0L684.9 796.0ZM718.8 814.4L687.8 832.9L687.8 795.9ZM721.7 814.3L690.7 832.8L690.7 795.8ZM724.6 814.1L693.6 832.6L693.6 795.6ZM727.5 814.0L696.5 832.5L696.5 795.5ZM730.4 813.8L699.4 832.3L699.4 795.3ZM733.3 813.7L702.3 832.2L702.3 795.2ZM736.2 813.6L705.2 832.1L705.2 795.1ZM739.1 813.4L708.1 831.9L708.1 794.9ZM742.0 813.3L711.0 831.8L711.0 794.8ZM744.9 813.1L713.9 831.6L713.9 794.6ZM747.8 813.0L716.8 831.5L716.8 794.5ZM750.7 812.8L719.7 831.3L719.7 794.3ZM753.6 812.7L722.6 831.2L722.6 794.2ZM756.5 812.5L725.5 831.0L725.5 794.0ZM759.4 812.4L728.4 830.9L728.4 793.9ZM762.3 812.2L731.3 830.7L731.3 793.7ZM765.2 812.1L734.2 830.6L734.2 793.6ZM768.1 811.9L737.1 830.4L737.1 793.4ZM771.0 811.7L740.0 830.2L740.0 793.2ZM773.9 811.6L742.9 830.1L742.9 793.1ZM776.8 811.4L745.8 829.9L745.8 792.9ZM779.7 811.2L748.7 829.7L748.7 792.7ZM782.6 811.0L751.6 829.5L751.6 792.5ZM785.5 810.8L754.5 829.3L754.5 792.3ZM788.4 810.7L757.4 829.2L757.4 792.2ZM791.3 810.5L760.3 829.0L760.3 792.0ZM794.2 810.3L763.2 828.8L763.2 791.8ZM797.1 810.1L766.1 828.6L766.1 791.6ZM800.0 809.9L769.0 828.4L769.0 791.4ZM802.9 809.7L771.9 828.2L771.9 791.2ZM805.8 809.5L774.8 828.0L774.8 791.0ZM808.7 809.4L777.7 827.9L777.7 790.9ZM811.6 809.2L780.6 827.7L780.6 790.7ZM814.5 809.0L783.5 827.5L783.5 790.5ZM817.4 808.8L786.4 827.3L786.4 790.3ZM820.3 808.6L789.3 827.1L789.3 790.1ZM823.2 808.4L792.2 826.9L792.2 789.9ZM826.1 808.2L795.1 826.7L795.1 789.7ZM829.0 808.0L798.0 826.5L798.0 789.5ZM831.9 807.9L800.9 826.4L800.9 789.4ZM834.8 807.7L803.8 826.2L803.8 789.2ZM837.7 807.5L806.7 826.0L806.7 789.0ZM840.6 807.3L809.6 825.8L809.6 788.8ZM843.5 807.1L812.5 825.6L812.5 788.6ZM846.4 807.0L815.4 825.5L815.4 788.5ZM849.3 806.8L818.3 825.3L818.3 788.3ZM852.2 806.6L821.2 825.1L821.2 788.1ZM855.1 806.5L824.1 825.0L824.1 788.0ZM858.0 806.3L827.0 824.8L827.0 787.8ZM860.9 806.2L829.9 824.7L829.9 787.7ZM863.8 806.0L832.8 824.5L832.8 787.5ZM866.7 805.9L835.7 824.4L835.7 787.4ZM869.6 805.7L838.6 824.2L838.6 787.2ZM872.5 805.6L841.5 824.1L841.5 787.1ZM875.4 805.5L844.4 824.0L844.4 787.0ZM878.3 805.3L847.3 823.8L847.3 786.8ZM881.2 805.2L850.2 823.7L850.2 786.7ZM884.1 805.1L853.1 823.6L853.1 786.6ZM887.0 805.0L856.0 823.5L856.0 786.5ZM889.9 804.9L858.9 823.4L858.9 786.4ZM892.8 804.8L861.8 823.3L861.8 786.3ZM895.7 804.7L864.7 823.2L864.7 786.2ZM898.6 804.6L867.6 823.1L867.6 786.1ZM901.5 804.5L870.5 823.0L870.5 786.0ZM904.4 804.4L873.4 822.9L873.4 785.9ZM907.3 804.3L876.3 822.8L876.3 785.8ZM910.2 804.2L879.2 822.7L879.2 785.7ZM913.1 804.1L882.1 822.6L882.1 785.6ZM916.0 804.1L885.0 822.6L885.0 785.6ZM918.9 804.0L887.9 822.5L887.9 785.5ZM921.8 804.0L890.8 822.5L890.8 785.5ZM924.7 803.9L893.7 822.4L893.7 785.4ZM927.6 803.8L896.6 822.3L896.6 785.3ZM930.5 803.8L899.5 822.3L899.5 785.3ZM933.4 803.7L902.4 822.2L902.4 785.2ZM936.3 803.7L905.3 822.2L905.3 785.2ZM939.2 803.6L908.2 822.1L908.2 785.1ZM942.1 803.5L911.1 822.0L911.1 785.0ZM945.0 803.5L914.0 822.0L914.0 785.0ZM947.9 803.4L916.9 821.9L916.9 784.9ZM950.8 803.4L919.8 821.9L919.8 784.9ZM953.7 803.3L922.7 821.8L922.7 784.8ZM956.6 803.3L925.6 821.8L925.6 784.8ZM959.5 803.2L928.5 821.7L928.5 784.7ZM962.4 803.2L931.4 821.7L931.4 784.7ZM965.3 803.1L934.3 821.6L934.3 784.6ZM968.2 803.1L937.2 821.6L937.2 784.6ZM971.1 803.0L940.1 821.5L940.1 784.5ZM974.0 803.0L943.0 821.5L943.0 784.5ZM976.9 802.9L945.9 821.4L945.9 784.4ZM979.8 802.9L948.8 821.4L948.8 784.4ZM982.7 802.8L951.7 821.3L951.7 784.3ZM985.6 802.8L954.6 821.3L954.6 784.3ZM988.5 802.7L957.5 821.2L957.5 784.2ZM991.4 802.7L960.4 821.2L960.4 784.2ZM994.3 802.7L963.3 821.2L963.3 784.2ZM997.2 802.6L966.2 821.1L966.2 784.1ZM1000.1 802.6L969.1 821.1L969.1 784.1ZM1003.0 802.6L972.0 821.1L972.0 784.1ZM1005.9 802.5L974.9 821.0L974.9 784.0ZM1008.8 802.5L977.8 821.0L977.8 784.0ZM1011.7 802.5L980.7 821.0L980.7 784.0ZM1014.6 802.5L983.6 821.0L983.6 784.0ZM1017.5 802.5L986.5 821.0L986.5 784.0ZM1020.4 802.4L989.4 820.9L989.4 783.9ZM1023.3 802.4L992.3 820.9L992.3 783.9ZM1026.2 802.4L995.2 820.9L995.2 783.9ZM1029.1 802.4L998.1 820.9L998.1 783.9ZM1032.0 802.4L1001.0 820.9L1001.0 783.9ZM1034.9 802.4L1003.9 820.9L1003.9 783.9ZM1037.8 802.4L1006.8 820.9L1006.8 783.9ZM1040.7 802.5L1009.7 821.0L1009.7 784.0ZM1043.6 802.5L1012.6 821.0L1012.6 784.0ZM1046.5 802.6L1015.5 821.1L1015.5 784.1ZM1049.4 802.7L1018.4 821.2L1018.4 784.2ZM1052.3 802.8L1021.3 821.3L1021.3 784.3ZM1055.2 802.9L1024.2 821.4L1024.2 784.4ZM1058.1 803.0L1027.1 821.5L1027.1 784.5ZM1063.5 1093.6L1032.5 1112.1L1032.5 1075.1ZM1066.4 1094.7L1035.4 1113.2L1035.4 1076.2ZM1069.3 1095.7L1038.3 1114.2L1038.3 1077.2ZM1072.2 1096.8L1041.2 1115.3L1041.2 1078.3ZM1075.1 1097.8L1044.1 1116.3L1044.1 1079.3ZM1078.0 1098.8L1047.0 1117.3L1047.0 1080.3ZM1080.9 1099.8L1049.9 1118.3L1049.9 1081.3ZM1083.8 1100.7L1052.8 1119.2L1052.8 1082.2ZM1086.7 1101.7L1055.7 1120.2L1055.7 1083.2ZM1089.6 1102.6L1058.6 1121.1L1058.6 1084.1ZM1092.5 1103.5L1061.5 1122.0L1061.5 1085.0ZM1095.4 1104.3L1064.4 1122.8L1064.4 1085.8ZM1098.3 1105.1L1067.3 1123.6L1067.3 1086.6ZM1101.2 1105.9L1070.2 1124.4L1070.2 1087.4ZM1104.1 1106.6L1073.1 1125.1L1073.1 1088.1ZM1107.0 1107.3L1076.0 1125.8L1076.0 1088.8ZM1109.9 1107.9L1078.9 1126.4L1078.9 1089.4ZM1112.8 1108.6L1081.8 1127.1L1081.8 1090.1ZM1115.7 1109.2L1084.7 1127.7L1084.7 1090.7ZM1118.6 1109.7L1087.6 1128.2L1087.6 1091.2ZM1121.5 1110.3L1090.5 1128.8L1090.5 1091.8ZM1124.4 1110.8L1093.4 1129.3L1093.4 1092.3ZM1127.3 1111.4L1096.3 1129.9L1096.3 1092.9ZM1130.2 1111.9L1099.2 1130.4L1099.2 1093.4ZM1133.1 1112.4L1102.1 1130.9L1102.1 1093.9ZM1136.0 1112.9L1105.0 1131.4L1105.0 1094.4ZM1138.9 1113.3L1107.9 1131.8L1107.9 1094.8ZM1141.8 1113.8L1110.8 1132.3L1110.8 1095.3ZM1144.7 1114.3L1113.7 1132.8L1113.7 1095.8ZM1147.6 1114.7L1116.6 1133.2L1116.6 1096.2ZM1150.5 1115.1L1119.5 1133.6L1119.5 1096.6ZM1153.4 1115.6L1122.4 1134.1L1122.4 1097.1ZM1156.3 1116.0L1125.3 1134.5L1125.3 1097.5ZM1159.2 1116.4L1128.2 1134.9L1128.2 1097.9ZM1162.1 1116.9L1131.1 1135.4L1131.1 1098.4ZM1165.0 1117.3L1134.0 1135.8L1134.0 1098.8ZM1167.9 1117.7L1136.9 1136.2L1136.9 1099.2ZM1170.8 1118.1L1139.8 1136.6L1139.8 1099.6ZM1173.7 1118.5L1142.7 1137.0L1142.7 1100.0ZM1176.6 1119.0L1145.6 1137.5L1145.6 1100.5ZM1179.5 1119.4L1148.5 1137.9L1148.5 1100.9ZM1182.4 1119.8L1151.4 1138.3L1151.4 1101.3ZM1185.3 1120.3L1154.3 1138.8L1154.3 1101.8ZM1188.2 1120.7L1157.2 1139.2L1157.2 1102.2ZM1191.1 1121.2L1160.1 1139.7L1160.1 1102.7ZM1194.0 1121.6L1163.0 1140.1L1163.0 1103.1ZM1196.9 1122.1L1165.9 1140.6L1165.9 1103.6ZM1199.8 1122.6L1168.8 1141.1L1168.8 1104.1ZM1202.7 1123.0L1171.7 1141.5L1171.7 1104.5ZM1205.6 1123.5L1174.6 1142.0L1174.6 1105.0ZM1208.5 1124.0L1177.5 1142.5L1177.5 1105.5ZM1211.4 1124.4L1180.4 1142.9L1180.4 1105.9ZM1214.3 1124.9L1183.3 1143.4L1183.3 1106.4ZM1217.2 1125.3L1186.2 1143.8L1186.2 1106.8ZM1220.1 1125.7L1189.1 1144.2L1189.1 1107.2ZM1223.0 1126.2L1192.0 1144.7L1192.0 1107.7ZM1225.9 1126.6L1194.9 1145.1L1194.9 1108.1ZM1228.8 1126.9L1197.8 1145.4L1197.8 1108.4ZM1231.7 1127.3L1200.7 1145.8L1200.7 1108.8ZM1234.6 1127.6L1203.6 1146.1L1203.6 1109.1ZM1237.5 1128.0L1206.5 1146.5L1206.5 1109.5ZM1240.4 1128.3L1209.4 1146.8L1209.4 1109.8ZM1243.3 1128.5L1212.3 1147.0L1212.3 1110.0ZM1246.2 1128.8L1215.2 1147.3L1215.2 1110.3ZM1249.1 1129.0L1218.1 1147.5L1218.1 1110.5ZM1252.0 1129.2L1221.0 1147.7L1221.0 1110.7ZM1254.9 1129.3L1223.9 1147.8L1223.9 1110.8ZM1257.8 1129.5L1226.8 1148.0L1226.8 1111.0ZM1260.7 1129.6L1229.7 1148.1L1229.7 1111.1ZM1263.6 1129.8L1232.6 1148.3L1232.6 1111.3ZM1266.5 1129.9L1235.5 1148.4L1235.5 1111.4ZM1269.4 1130.0L1238.4 1148.5L1238.4 1111.5ZM1272.3 1130.2L1241.3 1148.7L1241.3 1111.7ZM1275.2 1130.3L1244.2 1148.8L1244.2 1111.8ZM1278.1 1130.4L1247.1 1148.9L1247.1 1111.9ZM1281.0 1130.6L1250.0 1149.1L1250.0 1112.1ZM1283.9 1130.7L1252.9 1149.2L1252.9 1112.2ZM1286.8 1130.8L1255.8 1149.3L1255.8 1112.3ZM1289.7 1130.9L1258.7 1149.4L1258.7 1112.4ZM1292.6 1131.0L1261.6 1149.5L1261.6 1112.5ZM1295.5 1131.1L1264.5 1149.6L1264.5 1112.6ZM1298.4 1131.2L1267.4 1149.7L1267.4 1112.7ZM1301.3 1131.3L1270.3 1149.8L1270.3 1112.8ZM1304.2 1131.3L1273.2 1149.8L1273.2 1112.8ZM1307.1 1131.4L1276.1 1149.9L1276.1 1112.9ZM1310.0 1131.5L1279.0 1150.0L1279.0 1113.0ZM1312.9 1131.5L1281.9 1150.0L1281.9 1113.0ZM1315.8 1131.5L1284.8 1150.0L1284.8 1113.0ZM1318.7 1131.6L1287.7 1150.1L1287.7 1113.1ZM1321.6 1131.6L1290.6 1150.1L1290.6 1113.1ZM1324.5 1131.6L1293.5 1150.1L1293.5 1113.1ZM1327.4 1131.6L1296.4 1150.1L1296.4 1113.1ZM1330.3 1131.6L1299.3 1150.1L1299.3 1113.1ZM1333.2 1131.6L1302.2 1150.1L1302.2 1113.1ZM1336.1 1131.6L1305.1 1150.1L1305.1 1113.1ZM1339.0 1131.6L1308.0 1150.1L1308.0 1113.1ZM1341.9 1131.6L1310.9 1150.1L1310.9 1113.1ZM1344.8 1131.6L1313.8 1150.1L1313.8 1113.1ZM1347.7 1131.6L1316.7 1150.1L1316.7 1113.1ZM1350.6 1131.6L1319.6 1150.1L1319.6 1113.1ZM1353.5 1131.6L1322.5 1150.1L1322.5 1113.1ZM1356.4 1131.6L1325.4 1150.1L1325.4 1113.1ZM1359.3 1131.6L1328.3 1150.1L1328.3 1113.1ZM1362.2 1131.6L1331.2 1150.1L1331.2 1113.1ZM1365.1 1131.6L1334.1 1150.1L1334.1 1113.1ZM1368.0 1131.6L1337.0 1150.1L1337.0 1113.1ZM1370.9 1131.6L1339.9 1150.1L1339.9 1113.1ZM1373.8 1131.6L1342.8 1150.1L1342.8 1113.1ZM1376.7 1131.6L1345.7 1150.1L1345.7 1113.1ZM1379.6 1131.5L1348.6 1150.0L1348.6 1113.0ZM1382.5 1131.5L1351.5 1150.0L1351.5 1113.0ZM1385.4 1131.4L1354.4 1149.9L1354.4 1112.9ZM1388.3 1131.3L1357.3 1149.8L1357.3 1112.8ZM1391.2 1131.2L1360.2 1149.7L1360.2 1112.7ZM1394.1 1131.0L1363.1 1149.5L1363.1 1112.5ZM1397.0 1130.9L1366.0 1149.4L1366.0 1112.4ZM1399.9 1130.7L1368.9 1149.2L1368.9 1112.2ZM1402.8 1130.5L1371.8 1149.0L1371.8 1112.0ZM1405.7 1130.3L1374.7 1148.8L1374.7 1111.8ZM1408.6 1130.1L1377.6 1148.6L1377.6 1111.6ZM1411.5 1129.9L1380.5 1148.4L1380.5 1111.4ZM1414.4 1129.7L1383.4 1148.2L1383.4 1111.2ZM1417.3 1129.5L1386.3 1148.0L1386.3 1111.0ZM1420.2 1129.3L1389.2 1147.8L1389.2 1110.8ZM1423.1 1129.1L1392.1 1147.6L1392.1 1110.6ZM1426.0 1128.9L1395.0 1147.4L1395.0 1110.4ZM1428.9 1128.7L1397.9 1147.2L1397.9 1110.2ZM1431.8 1128.5L1400.8 1147.0L1400.8 1110.0ZM1434.7 1128.2L1403.7 1146.7L1403.7 1109.7ZM1437.6 1128.1L1406.6 1146.6L1406.6 1109.6ZM1440.5 1127.9L1409.5 1146.4L1409.5 1109.4ZM1443.4 1127.7L1412.4 1146.2L1412.4 1109.2ZM1446.3 1127.5L1415.3 1146.0L1415.3 1109.0ZM1449.2 1127.4L1418.2 1145.9L1418.2 1108.9ZM1452.1 1127.2L1421.1 1145.7L1421.1 1108.7ZM1455.0 1127.1L1424.0 1145.6L1424.0 1108.6ZM1457.9 1127.0L1426.9 1145.5L1426.9 1108.5ZM1460.8 1126.9L1429.8 1145.4L1429.8 1108.4ZM1463.7 1126.9L1432.7 1145.4L1432.7 1108.4ZM1466.6 1126.8L1435.6 1145.3L1435.6 1108.3ZM1469.5 1126.8L1438.5 1145.3L1438.5 1108.3ZM1472.4 1126.8L1441.4 1145.3L1441.4 1108.3ZM1475.3 1126.8L1444.3 1145.3L1444.3 1108.3ZM1478.2 1126.9L1447.2 1145.4L1447.2 1108.4ZM1481.1 1127.0L1450.1 1145.5L1450.1 1108.5ZM1484.0 1127.0L1453.0 1145.5L1453.0 1108.5ZM1486.9 1127.1L1455.9 1145.6L1455.9 1108.6ZM1489.8 1127.2L1458.8 1145.7L1458.8 1108.7ZM1492.7 1127.3L1461.7 1145.8L1461.7 1108.8ZM1495.6 1127.4L1464.6 1145.9L1464.6 1108.9ZM1498.5 1127.5L1467.5 1146.0L1467.5 1109.0ZM1501.4 1127.6L1470.4 1146.1L1470.4 1109.1ZM1504.3 1127.6L1473.3 1146.1L1473.3 1109.1ZM1507.2 1127.7L1476.2 1146.2L1476.2 1109.2ZM1510.1 1127.8L1479.1 1146.3L1479.1 1109.3ZM1513.0 1127.8L1482.0 1146.3L1482.0 1109.3ZM1515.9 1127.8L1484.9 1146.3L1484.9 1109.3ZM1518.8 1127.8L1487.8 1146.3L1487.8 1109.3ZM1521.7 1127.8L1490.7 1146.3L1490.7 1109.3ZM1524.6 1127.8L1493.6 1146.3L1493.6 1109.3ZM1527.5 1127.8L1496.5 1146.3L1496.5 1109.3ZM1530.4 1127.7L1499.4 1146.2L1499.4 1109.2ZM1533.3 1127.7L1502.3 1146.2L1502.3 1109.2ZM1536.2 1127.7L1505.2 1146.2L1505.2 1109.2ZM1539.1 1127.7L1508.1 1146.2L1508.1 1109.2ZM1542.0 1127.6L1511.0 1146.1L1511.0 1109.1ZM1544.9 1127.6L1513.9 1146.1L1513.9 1109.1ZM1547.8 1127.5L1516.8 1146.0L1516.8 1109.0ZM1550.7 1127.5L1519.7 1146.0L1519.7 1109.0ZM1553.6 1127.4L1522.6 1145.9L1522.6 1108.9ZM1556.5 1127.4L1525.5 1145.9L1525.5 1108.9ZM1559.4 1127.3L1528.4 1145.8L1528.4 1108.8ZM1562.3 1127.3L1531.3 1145.8L1531.3 1108.8ZM1565.2 1127.2L1534.2 1145.7L1534.2 1108.7ZM1568.1 1127.2L1537.1 1145.7L1537.1 1108.7ZM1571.0 1127.1L1540.0 1145.6L1540.0 1108.6ZM1573.9 1127.0L1542.9 1145.5L1542.9 1108.5ZM1576.8 1127.0L1545.8 1145.5L1545.8 1108.5ZM1579.7 1126.9L1548.7 1145.4L1548.7 1108.4ZM1582.6 1126.8L1551.6 1145.3L1551.6 1108.3ZM1585.5 1126.8L1554.5 1145.3L1554.5 1108.3ZM1588.4 1126.7L1557.4 1145.2L1557.4 1108.2ZM1591.3 1126.6L1560.3 1145.1L1560.3 1108.1ZM1594.2 1126.5L1563.2 1145.0L1563.2 1108.0ZM1597.1 1126.5L1566.1 1145.0L1566.1 1108.0ZM1600.0 1126.4L1569.0 1144.9L1569.0 1107.9ZM1602.9 1126.3L1571.9 1144.8L1571.9 1107.8ZM1605.8 1126.2L1574.8 1144.7L1574.8 1107.7ZM1608.7 1126.1L1577.7 1144.6L1577.7 1107.6ZM1611.6 1126.1L1580.6 1144.6L1580.6 1107.6ZM1614.5 1126.0L1583.5 1144.5L1583.5 1107.5ZM1617.4 1125.9L1586.4 1144.4L1586.4 1107.4ZM1620.3 1125.8L1589.3 1144.3L1589.3 1107.3ZM1623.2 1125.7L1592.2 1144.2L1592.2 1107.2ZM1626.1 1125.7L1595.1 1144.2L1595.1 1107.2ZM1629.0 1125.6L1598.0 1144.1L1598.0 1107.1ZM1631.9 1125.5L1600.9 1144.0L1600.9 1107.0ZM1634.8 1125.4L1603.8 1143.9L1603.8 1106.9ZM1637.7 1125.3L1606.7 1143.8L1606.7 1106.8ZM1640.6 1125.3L1609.6 1143.8L1609.6 1106.8ZM1643.5 1125.2L1612.5 1143.7L1612.5 1106.7ZM1646.4 1125.1L1615.4 1143.6L1615.4 1106.6ZM1649.3 1124.9L1618.3 1143.4L1618.3 1106.4ZM1652.2 1124.8L1621.2 1143.3L1621.2 1106.3ZM1655.1 1124.7L1624.1 1143.2L1624.1 1106.2ZM1658.0 1124.6L1627.0 1143.1L1627.0 1106.1ZM1660.9 1124.5L1629.9 1143.0L1629.9 1106.0ZM1663.8 1124.3L1632.8 1142.8L1632.8 1105.8ZM1666.7 1124.2L1635.7 1142.7L1635.7 1105.7ZM1669.6 1124.1L1638.6 1142.6L1638.6 1105.6ZM1672.5 1123.9L1641.5 1142.4L1641.5 1105.4ZM1675.4 1123.8L1644.4 1142.3L1644.4 1105.3ZM1678.3 1123.6L1647.3 1142.1L1647.3 1105.1ZM1681.2 1123.5L1650.2 1142.0L1650.2 1105.0ZM1684.1 1123.3L1653.1 1141.8L1653.1 1104.8ZM1687.0 1123.2L1656.0 1141.7L1656.0 1104.7ZM1689.9 1123.0L1658.9 1141.5L1658.9 1104.5ZM1692.8 1122.9L1661.8 1141.4L1661.8 1104.4ZM1695.7 1122.7L1664.7 1141.2L1664.7 1104.2ZM1698.6 1122.6L1667.6 1141.1L1667.6 1104.1ZM1701.5 1122.4L1670.5 1140.9L1670.5 1103.9ZM1704.4 1122.3L1673.4 1140.8L1673.4 1103.8ZM1707.3 1122.2L1676.3 1140.7L1676.3 1103.7ZM1710.2 1122.0L1679.2 1140.5L1679.2 1103.5ZM1713.1 1121.9L1682.1 1140.4L1682.1 1103.4ZM1716.0 1121.7L1685.0 1140.2L1685.0 1103.2ZM1718.9 1121.6L1687.9 1140.1L1687.9 1103.1ZM1721.8 1121.5L1690.8 1140.0L1690.8 1103.0ZM1724.7 1121.4L1693.7 1139.9L1693.7 1102.9ZM1727.6 1121.3L1696.6 1139.8L1696.6 1102.8ZM1730.5 1121.1L1699.5 1139.6L1699.5 1102.6ZM1733.4 1121.0L1702.4 1139.5L1702.4 1102.5ZM1736.3 1120.9L1705.3 1139.4L1705.3 1102.4ZM1739.2 1120.9L1708.2 1139.4L1708.2 1102.4ZM1742.1 1120.8L1711.1 1139.3L1711.1 1102.3ZM1745.0 1120.7L1714.0 1139.2L1714.0 1102.2ZM1747.9 1120.6L1716.9 1139.1L1716.9 1102.1ZM1750.8 1120.6L1719.8 1139.1L1719.8 1102.1ZM1753.7 1120.5L1722.7 1139.0L1722.7 1102.0ZM1756.6 1120.5L1725.6 1139.0L1725.6 1102.0ZM1759.5 1120.4L1728.5 1138.9L1728.5 1101.9ZM1762.4 1120.4L1731.4 1138.9L1731.4 1101.9ZM1765.3 1120.4L1734.3 1138.9L1734.3 1101.9ZM1768.2 1120.3L1737.2 1138.8L1737.2 1101.8ZM1771.1 1120.3L1740.1 1138.8L1740.1 1101.8ZM1774.0 1120.3L1743.0 1138.8L1743.0 1101.8ZM1776.9 1120.2L1745.9 1138.7L1745.9 1101.7ZM1779.8 1120.2L1748.8 1138.7L1748.8 1101.7ZM1782.7 1120.2L1751.7 1138.7L1751.7 1101.7ZM1785.6 1120.1L1754.6 1138.6L1754.6 1101.6ZM1788.5 1120.1L1757.5 1138.6L1757.5 1101.6ZM1791.4 1120.1L1760.4 1138.6L1760.4 1101.6ZM1794.3 1120.0L1763.3 1138.5L1763.3 1101.5ZM1797.2 1120.0L1766.2 1138.5L1766.2 1101.5ZM1800.1 1120.0L1769.1 1138.5L1769.1 1101.5ZM1803.0 1119.9L1772.0 1138.4L1772.0 1101.4ZM1805.9 1119.9L1774.9 1138.4L1774.9 1101.4ZM1808.8 1119.9L1777.8 1138.4L1777.8 1101.4ZM1811.7 1119.8L1780.7 1138.3L1780.7 1101.3ZM1814.6 1119.8L1783.6 1138.3L1783.6 1101.3ZM1817.5 1119.8L1786.5 1138.3L1786.5 1101.3ZM1820.4 1119.8L1789.4 1138.3L1789.4 1101.3ZM1823.3 1119.7L1792.3 1138.2L1792.3 1101.2ZM1826.2 1119.7L1795.2 1138.2L1795.2 1101.2ZM1829.1 1119.7L1798.1 1138.2L1798.1 1101.2ZM1832.0 1119.7L1801.0 1138.2L1801.0 1101.2ZM1834.9 1119.6L1803.9 1138.1L1803.9 1101.1ZM1837.8 1119.6L1806.8 1138.1L1806.8 1101.1ZM1840.7 1119.6L1809.7 1138.1L1809.7 1101.1ZM1843.6 1119.6L1812.6 1138.1L1812.6 1101.1ZM1846.5 1119.6L1815.5 1138.1L1815.5 1101.1ZM1849.4 1119.5L1818.4 1138.0L1818.4 1101.0ZM1852.3 1119.5L1821.3 1138.0L1821.3 1101.0ZM1855.2 1119.5L1824.2 1138.0L1824.2 1101.0ZM1858.1 1119.5L1827.1 1138.0L1827.1 1101.0ZM1861.0 1119.5L1830.0 1138.0L1830.0 1101.0ZM1863.9 1119.4L1832.9 1137.9L1832.9 1100.9ZM1866.8 1119.4L1835.8 1137.9L1835.8 1100.9ZM1869.7 1119.4L1838.7 1137.9L1838.7 1100.9ZM1872.6 1119.4L1841.6 1137.9L1841.6 1100.9ZM1875.5 1119.4L1844.5 1137.9L1844.5 1100.9ZM1878.4 1119.4L1847.4 1137.9L1847.4 1100.9ZM1881.3 1119.4L1850.3 1137.9L1850.3 1100.9ZM1884.2 1119.4L1853.2 1137.9L1853.2 1100.9ZM1887.1 1119.3L1856.1 1137.8L1856.1 1100.8ZM1890.0 1119.3L1859.0 1137.8L1859.0 1100.8ZM1892.9 1119.3L1861.9 1137.8L1861.9 1100.8ZM1895.8 1119.3L1864.8 1137.8L1864.8 1100.8ZM1898.7 1119.3L1867.7 1137.8L1867.7 1100.8ZM1901.6 1119.3L1870.6 1137.8L1870.6 1100.8ZM1904.5 1119.3L1873.5 1137.8L1873.5 1100.8ZM1907.4 1119.3L1876.4 1137.8L1876.4 1100.8ZM1910.3 1119.3L1879.3 1137.8L1879.3 1100.8ZM1913.2 1119.3L1882.2 1137.8L1882.2 1100.8ZM1916.1 1119.3L1885.1 1137.8L1885.1 1100.8ZM1919.0 1119.3L1888.0 1137.8L1888.0 1100.8ZM1921.9 1119.4L1890.9 1137.9L1890.9 1100.9ZM1924.8 1119.4L1893.8 1137.9L1893.8 1100.9ZM1927.7 1119.5L1896.7 1138.0L1896.7 1101.0ZM1930.6 1119.6L1899.6 1138.1L1899.6 1101.1ZM1933.5 1119.7L1902.5 1138.2L1902.5 1101.2ZM1936.4 1119.8L1905.4 1138.3L1905.4 1101.3ZM1939.3 1119.9L1908.3 1138.4L1908.3 1101.4ZM1941.4 1119.9L1910.4 1138.4L1910.4 1101.4ZM1943.5 1120.0L1912.5 1138.5L1912.5 1101.5Z" fill="#6EB33C"/>
</g>
<path d="M1026.4 57V1509.5" stroke="#E8433A" stroke-width="4.4" stroke-opacity="0.92"/>
<g font-family="'Liberation Serif', 'Times New Roman', serif" fill="#231f1c">
<text x="146.05" y="1513.80" font-size="81" textLength="99.65" lengthAdjust="spacingAndGlyphs">0.0</text>
<text x="146.05" y="1273.38" font-size="81" textLength="99.65" lengthAdjust="spacingAndGlyphs">0.1</text>
<text x="146.05" y="1032.97" font-size="81" textLength="99.65" lengthAdjust="spacingAndGlyphs">0.2</text>
<text x="146.05" y="792.55" font-size="81" textLength="99.65" lengthAdjust="spacingAndGlyphs">0.3</text>
<text x="146.05" y="552.13" font-size="81" textLength="99.65" lengthAdjust="spacingAndGlyphs">0.4</text>
<text x="146.05" y="311.72" font-size="81" textLength="99.65" lengthAdjust="spacingAndGlyphs">0.5</text>
<text x="146.05" y="71.30" font-size="81" textLength="99.65" lengthAdjust="spacingAndGlyphs">0.6</text>
<text x="308.5" y="1611.0" font-size="81.0" text-anchor="middle">0</text>
<text x="531.1" y="1611.0" font-size="81.0" text-anchor="middle">5</text>
<text x="753.6" y="1611.0" font-size="81.0" text-anchor="middle">10</text>
<text x="976.2" y="1611.0" font-size="81.0" text-anchor="middle">15</text>
<text x="1198.7" y="1611.0" font-size="81.0" text-anchor="middle">20</text>
<text x="1421.3" y="1611.0" font-size="81.0" text-anchor="middle">25</text>
<text x="1643.8" y="1611.0" font-size="81.0" text-anchor="middle">30</text>
<text x="1866.4" y="1611.0" font-size="81.0" text-anchor="middle">35</text>
<text x="2088.9" y="1611.0" font-size="81.0" text-anchor="middle">40</text>
<text x="2311.5" y="1611.0" font-size="81.0" text-anchor="middle">45</text>
<text x="1092.85" y="1722.00" font-size="86" textLength="431.87" lengthAdjust="spacingAndGlyphs">Volume (PV)</text>
<text transform="translate(81.6 1022.00) rotate(-90)" font-size="80.3" textLength="497.31" lengthAdjust="spacingAndGlyphs">Pressure (MPa)</text>
<text x="430.56" y="424.40" font-size="83" textLength="498.99" lengthAdjust="spacingAndGlyphs">Pressure before</text>
<text x="523.18" y="496.10" font-size="83" textLength="312.47" lengthAdjust="spacingAndGlyphs">nanodrag</text>
<text x="326.03" y="583.70" font-size="83" textLength="642.48" lengthAdjust="spacingAndGlyphs">Reduction injection</text>
<text x="1276.73" y="1255.90" font-size="83" textLength="772.71" lengthAdjust="spacingAndGlyphs">Pressure after nanodrag</text>
<text x="1340.33" y="1342.00" font-size="83" textLength="641.17" lengthAdjust="spacingAndGlyphs">Reduction injection</text>
<text x="488.78" y="1881.50" font-size="85" textLength="320.25" lengthAdjust="spacingAndGlyphs">GO-DDA</text>
<text x="482.67" y="1987.50" font-size="85" textLength="312.07" lengthAdjust="spacingAndGlyphs">GO-TDA</text>
<text x="1305.16" y="1880.80" font-size="85" textLength="322.07" lengthAdjust="spacingAndGlyphs">GO-HDA</text>
<text x="1305.16" y="1973.40" font-size="85" textLength="322.07" lengthAdjust="spacingAndGlyphs">GO-ODA</text>
</g>
<path d="M303.6 1863.4H440.5" stroke="#ED7A2F" stroke-width="5.5"/>
<path d="M373.0 1842.5L391.2 1874.5L354.8 1874.5Z" fill="#ED7A2F"/>
<path d="M303.6 1967H440.5" stroke="#4A4388" stroke-width="5.5"/>
<path d="M354.8 1955.6L391.2 1955.6L373.0 1987.6Z" fill="#4A4388"/>
<path d="M1129 1858.8H1267.4" stroke="#B3508F" stroke-width="5.5"/>
<path d="M1184.0 1859.3L1214.4 1840.8L1214.4 1877.8Z" fill="#B3508F"/>
<path d="M1129 1957.2H1267.4" stroke="#6EB33C" stroke-width="5.5"/>
<path d="M1213.5 1957.5L1182.5 1976.3L1182.5 1938.7Z" fill="#6EB33C"/>
</g>
</svg></body></html>
